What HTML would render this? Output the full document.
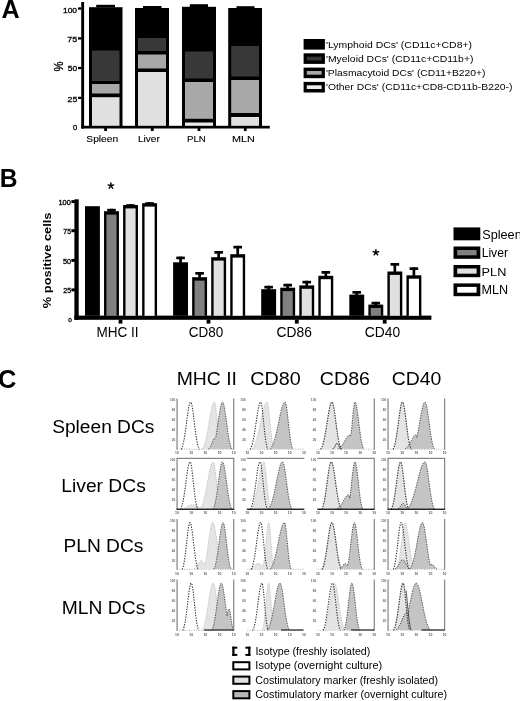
<!DOCTYPE html>
<html><head><meta charset="utf-8"><style>
html,body{margin:0;padding:0;background:#fff;}
svg{display:block;filter:grayscale(1);}
text{font-family:"Liberation Sans",sans-serif;}
</style></head><body>
<svg width="520" height="701" viewBox="0 0 520 701">
<rect width="520" height="701" fill="#fff"/>
<rect x="81.20" y="2.00" width="2.90" height="126.50" fill="#000" />
<rect x="81.20" y="125.80" width="188.60" height="2.70" fill="#000" />
<rect x="78.00" y="7.35" width="3.40" height="2.30" fill="#000" />
<rect x="78.00" y="37.25" width="3.40" height="2.30" fill="#000" />
<rect x="78.00" y="66.85" width="3.40" height="2.30" fill="#000" />
<rect x="78.00" y="96.75" width="3.40" height="2.30" fill="#000" />
<rect x="89.00" y="7.20" width="33.50" height="119.30" fill="#000" />
<rect x="96.20" y="4.80" width="18.80" height="2.60" fill="#000" />
<rect x="92.00" y="50.50" width="27.50" height="30.50" fill="#383838" />
<rect x="92.00" y="84.00" width="27.50" height="9.50" fill="#a8a8a8" />
<rect x="92.00" y="97.20" width="27.50" height="28.60" fill="#e0e0e0" />
<rect x="135.00" y="8.00" width="34.00" height="118.50" fill="#000" />
<rect x="143.00" y="6.00" width="18.50" height="2.20" fill="#000" />
<rect x="138.00" y="38.00" width="28.00" height="13.00" fill="#383838" />
<rect x="138.00" y="54.50" width="28.00" height="14.00" fill="#a8a8a8" />
<rect x="138.00" y="72.00" width="28.00" height="53.80" fill="#e0e0e0" />
<rect x="182.00" y="6.80" width="34.00" height="119.70" fill="#000" />
<rect x="189.80" y="4.20" width="18.20" height="2.80" fill="#000" />
<rect x="185.00" y="51.50" width="28.00" height="27.00" fill="#383838" />
<rect x="185.00" y="82.00" width="28.00" height="36.80" fill="#a8a8a8" />
<rect x="185.00" y="122.50" width="28.00" height="3.30" fill="#ececec" />
<rect x="228.20" y="8.00" width="33.80" height="118.50" fill="#000" />
<rect x="236.50" y="6.20" width="18.00" height="2.00" fill="#000" />
<rect x="231.20" y="46.00" width="27.80" height="30.50" fill="#383838" />
<rect x="231.20" y="80.00" width="27.80" height="33.00" fill="#a8a8a8" />
<rect x="231.20" y="117.00" width="27.80" height="8.80" fill="#e0e0e0" />
<rect x="104.20" y="128.00" width="2.80" height="3.00" fill="#000" />
<rect x="150.90" y="128.00" width="2.80" height="3.00" fill="#000" />
<rect x="197.60" y="128.00" width="2.80" height="3.00" fill="#000" />
<rect x="243.90" y="128.00" width="2.80" height="3.00" fill="#000" />
<rect x="303.60" y="39.00" width="21.30" height="10.60" fill="#000" />
<rect x="303.60" y="53.30" width="21.30" height="10.60" fill="#000" />
<rect x="306.80" y="56.70" width="14.80" height="3.70" fill="#383838" />
<rect x="303.60" y="67.60" width="21.30" height="10.60" fill="#000" />
<rect x="306.80" y="71.00" width="14.80" height="3.70" fill="#a8a8a8" />
<rect x="303.60" y="81.90" width="21.30" height="10.60" fill="#000" />
<rect x="306.80" y="85.30" width="14.80" height="3.70" fill="#eeeeee" />
<rect x="74.40" y="199.30" width="4.30" height="120.50" fill="#000" />
<rect x="74.40" y="315.60" width="357.00" height="4.20" fill="#000" />
<rect x="71.40" y="200.10" width="3.50" height="3.00" fill="#000" />
<rect x="71.40" y="229.20" width="3.50" height="3.00" fill="#000" />
<rect x="71.40" y="258.90" width="3.50" height="3.00" fill="#000" />
<rect x="71.40" y="288.40" width="3.50" height="3.00" fill="#000" />
<rect x="85.00" y="206.20" width="14.90" height="109.60" fill="#000" />
<rect x="107.20" y="208.80" width="8.60" height="2.70" fill="#000" />
<rect x="110.15" y="208.80" width="2.70" height="2.90" fill="#000" />
<rect x="104.05" y="211.20" width="14.90" height="104.60" fill="#000" />
<rect x="106.45" y="214.60" width="10.10" height="101.20" fill="#808080" />
<rect x="126.25" y="204.20" width="8.60" height="2.70" fill="#000" />
<rect x="129.20" y="204.20" width="2.70" height="1.30" fill="#000" />
<rect x="123.10" y="205.00" width="14.90" height="110.80" fill="#000" />
<rect x="125.50" y="208.40" width="10.10" height="107.40" fill="#e0e0e0" />
<rect x="145.30" y="202.20" width="8.60" height="2.70" fill="#000" />
<rect x="148.25" y="202.20" width="2.70" height="1.50" fill="#000" />
<rect x="142.15" y="203.20" width="14.90" height="112.60" fill="#000" />
<rect x="144.55" y="206.60" width="10.10" height="109.20" fill="#fff" />
<rect x="176.25" y="256.60" width="8.60" height="2.70" fill="#000" />
<rect x="179.20" y="256.60" width="2.70" height="6.20" fill="#000" />
<rect x="173.10" y="262.30" width="14.90" height="53.50" fill="#000" />
<rect x="195.30" y="272.00" width="8.60" height="2.70" fill="#000" />
<rect x="198.25" y="272.00" width="2.70" height="5.70" fill="#000" />
<rect x="192.15" y="277.20" width="14.90" height="38.60" fill="#000" />
<rect x="194.55" y="280.60" width="10.10" height="35.20" fill="#808080" />
<rect x="214.35" y="251.00" width="8.60" height="2.70" fill="#000" />
<rect x="217.30" y="251.00" width="2.70" height="6.70" fill="#000" />
<rect x="211.20" y="257.20" width="14.90" height="58.60" fill="#000" />
<rect x="213.60" y="260.60" width="10.10" height="55.20" fill="#e0e0e0" />
<rect x="233.40" y="245.80" width="8.60" height="2.70" fill="#000" />
<rect x="236.35" y="245.80" width="2.70" height="8.90" fill="#000" />
<rect x="230.25" y="254.20" width="14.90" height="61.60" fill="#000" />
<rect x="232.65" y="257.60" width="10.10" height="58.20" fill="#fff" />
<rect x="264.35" y="285.80" width="8.60" height="2.70" fill="#000" />
<rect x="267.30" y="285.80" width="2.70" height="3.90" fill="#000" />
<rect x="261.20" y="289.20" width="14.90" height="26.60" fill="#000" />
<rect x="283.40" y="283.80" width="8.60" height="2.70" fill="#000" />
<rect x="286.35" y="283.80" width="2.70" height="4.40" fill="#000" />
<rect x="280.25" y="287.70" width="14.90" height="28.10" fill="#000" />
<rect x="282.65" y="291.10" width="10.10" height="24.70" fill="#808080" />
<rect x="302.45" y="280.80" width="8.60" height="2.70" fill="#000" />
<rect x="305.40" y="280.80" width="2.70" height="5.10" fill="#000" />
<rect x="299.30" y="285.40" width="14.90" height="30.40" fill="#000" />
<rect x="301.70" y="288.80" width="10.10" height="27.00" fill="#e0e0e0" />
<rect x="321.50" y="271.00" width="8.60" height="2.70" fill="#000" />
<rect x="324.45" y="271.00" width="2.70" height="5.30" fill="#000" />
<rect x="318.35" y="275.80" width="14.90" height="40.00" fill="#000" />
<rect x="320.75" y="279.20" width="10.10" height="36.60" fill="#fff" />
<rect x="352.45" y="291.00" width="8.60" height="2.70" fill="#000" />
<rect x="355.40" y="291.00" width="2.70" height="4.10" fill="#000" />
<rect x="349.30" y="294.60" width="14.90" height="21.20" fill="#000" />
<rect x="371.50" y="301.80" width="8.60" height="2.70" fill="#000" />
<rect x="374.45" y="301.80" width="2.70" height="3.30" fill="#000" />
<rect x="368.35" y="304.60" width="14.90" height="11.20" fill="#000" />
<rect x="370.75" y="308.00" width="10.10" height="7.80" fill="#808080" />
<rect x="390.55" y="263.00" width="8.60" height="2.70" fill="#000" />
<rect x="393.50" y="263.00" width="2.70" height="9.00" fill="#000" />
<rect x="387.40" y="271.50" width="14.90" height="44.30" fill="#000" />
<rect x="389.80" y="274.90" width="10.10" height="40.90" fill="#e0e0e0" />
<rect x="409.60" y="267.30" width="8.60" height="2.70" fill="#000" />
<rect x="412.55" y="267.30" width="2.70" height="8.50" fill="#000" />
<rect x="406.45" y="275.30" width="14.90" height="40.50" fill="#000" />
<rect x="408.85" y="278.70" width="10.10" height="37.10" fill="#fff" />
<rect x="118.60" y="319.60" width="3.80" height="4.00" fill="#000" />
<rect x="206.60" y="319.60" width="3.80" height="4.00" fill="#000" />
<rect x="294.90" y="319.60" width="3.80" height="4.00" fill="#000" />
<rect x="382.80" y="319.60" width="3.80" height="4.00" fill="#000" />
<path d="M110.90,185.80 L110.90,182.90 M110.90,185.80 L113.66,184.90 M110.90,185.80 L112.60,188.15 M110.90,185.80 L109.20,188.15 M110.90,185.80 L108.14,184.90 " stroke="#000" stroke-width="1.45" stroke-linecap="round" fill="none"/>
<path d="M375.90,252.50 L375.90,249.60 M375.90,252.50 L378.66,251.60 M375.90,252.50 L377.60,254.85 M375.90,252.50 L374.20,254.85 M375.90,252.50 L373.14,251.60 " stroke="#000" stroke-width="1.45" stroke-linecap="round" fill="none"/>
<rect x="453.50" y="227.40" width="26.80" height="12.90" fill="#000" />
<rect x="453.50" y="246.50" width="26.80" height="12.30" fill="#000" />
<rect x="457.20" y="250.00" width="19.40" height="5.30" fill="#808080" />
<rect x="453.50" y="265.00" width="26.80" height="12.20" fill="#000" />
<rect x="457.20" y="268.50" width="19.40" height="5.20" fill="#e0e0e0" />
<rect x="453.50" y="283.40" width="26.80" height="12.80" fill="#000" />
<rect x="457.20" y="286.90" width="19.40" height="5.80" fill="#fff" />
<text x="1.51" y="17.70" font-size="25.17" font-weight="700" fill="#000" textLength="18.17" lengthAdjust="spacingAndGlyphs" >A</text>
<text x="62.97" y="12.68" font-size="7.65" font-weight="400" fill="#000" textLength="14.04" lengthAdjust="spacingAndGlyphs" stroke="#000" stroke-width="0.3">100</text>
<text x="67.38" y="42.07" font-size="8.07" font-weight="400" fill="#000" textLength="9.98" lengthAdjust="spacingAndGlyphs" stroke="#000" stroke-width="0.3">75</text>
<text x="67.84" y="71.48" font-size="7.65" font-weight="400" fill="#000" textLength="9.37" lengthAdjust="spacingAndGlyphs" stroke="#000" stroke-width="0.3">50</text>
<text x="67.59" y="101.77" font-size="8.07" font-weight="400" fill="#000" textLength="9.77" lengthAdjust="spacingAndGlyphs" stroke="#000" stroke-width="0.3">25</text>
<text x="72.96" y="130.39" font-size="7.23" font-weight="400" fill="#000" textLength="4.23" lengthAdjust="spacingAndGlyphs" stroke="#000" stroke-width="0.3">0</text>
<text x="0" y="0" transform="translate(62.61,71.55) rotate(-90)" font-size="12.38" font-weight="400" fill="#000" textLength="10.09" lengthAdjust="spacingAndGlyphs" stroke="#000" stroke-width="0.3">%</text>
<text x="86.38" y="142.10" font-size="9.53" font-weight="400" fill="#000" textLength="31.69" lengthAdjust="spacingAndGlyphs" stroke="#000" stroke-width="0.12">Spleen</text>
<text x="137.91" y="142.10" font-size="9.53" font-weight="400" fill="#000" textLength="21.94" lengthAdjust="spacingAndGlyphs" stroke="#000" stroke-width="0.12">Liver</text>
<text x="186.94" y="142.10" font-size="9.53" font-weight="400" fill="#000" textLength="18.85" lengthAdjust="spacingAndGlyphs" stroke="#000" stroke-width="0.12">PLN</text>
<text x="232.06" y="142.10" font-size="9.53" font-weight="400" fill="#000" textLength="22.83" lengthAdjust="spacingAndGlyphs" stroke="#000" stroke-width="0.12">MLN</text>
<text x="325.91" y="48.30" font-size="9.96" font-weight="400" fill="#000" textLength="146.13" lengthAdjust="spacingAndGlyphs" >&#39;Lymphoid DCs&#39; (CD11c+CD8+)</text>
<text x="325.91" y="62.10" font-size="9.81" font-weight="400" fill="#000" textLength="147.53" lengthAdjust="spacingAndGlyphs" >&#39;Myeloid DCs&#39; (CD11c+CD11b+)</text>
<text x="325.92" y="76.00" font-size="9.67" font-weight="400" fill="#000" textLength="159.62" lengthAdjust="spacingAndGlyphs" >&#39;Plasmacytoid DCs&#39; (CD11+B220+)</text>
<text x="325.91" y="89.90" font-size="9.67" font-weight="400" fill="#000" textLength="186.52" lengthAdjust="spacingAndGlyphs" >&#39;Other DCs&#39; (CD11c+CD8-CD11b-B220-)</text>
<text x="-0.34" y="186.50" font-size="25.17" font-weight="700" fill="#000" textLength="17.79" lengthAdjust="spacingAndGlyphs" >B</text>
<text x="0" y="0" transform="translate(51.48,308.20) rotate(-90)" font-size="11.54" font-weight="700" fill="#000" textLength="95.72" lengthAdjust="spacingAndGlyphs" >% positive cells</text>
<text x="58.43" y="205.49" font-size="7.10" font-weight="400" fill="#000" textLength="12.45" lengthAdjust="spacingAndGlyphs" stroke="#000" stroke-width="0.3">100</text>
<text x="63.38" y="234.19" font-size="6.82" font-weight="400" fill="#000" textLength="7.60" lengthAdjust="spacingAndGlyphs" stroke="#000" stroke-width="0.3">75</text>
<text x="62.97" y="263.59" font-size="7.10" font-weight="400" fill="#000" textLength="8.11" lengthAdjust="spacingAndGlyphs" stroke="#000" stroke-width="0.3">50</text>
<text x="63.27" y="292.79" font-size="6.82" font-weight="400" fill="#000" textLength="7.92" lengthAdjust="spacingAndGlyphs" stroke="#000" stroke-width="0.3">25</text>
<text x="68.20" y="321.51" font-size="5.98" font-weight="400" fill="#000" textLength="3.56" lengthAdjust="spacingAndGlyphs" stroke="#000" stroke-width="0.3">0</text>
<text x="96.44" y="336.60" font-size="13.94" font-weight="400" fill="#000" textLength="42.18" lengthAdjust="spacingAndGlyphs" >MHC II</text>
<text x="188.87" y="336.60" font-size="13.94" font-weight="400" fill="#000" textLength="34.47" lengthAdjust="spacingAndGlyphs" >CD80</text>
<text x="276.55" y="336.60" font-size="13.94" font-weight="400" fill="#000" textLength="35.31" lengthAdjust="spacingAndGlyphs" >CD86</text>
<text x="364.85" y="336.60" font-size="13.94" font-weight="400" fill="#000" textLength="35.29" lengthAdjust="spacingAndGlyphs" >CD40</text>
<text x="482.20" y="238.70" font-size="12.66" font-weight="400" fill="#000" textLength="39.51" lengthAdjust="spacingAndGlyphs" >Spleen</text>
<text x="481.65" y="257.40" font-size="12.37" font-weight="400" fill="#000" textLength="26.41" lengthAdjust="spacingAndGlyphs" >Liver</text>
<text x="481.61" y="276.00" font-size="11.80" font-weight="400" fill="#000" textLength="24.73" lengthAdjust="spacingAndGlyphs" >PLN</text>
<text x="481.62" y="294.40" font-size="11.95" font-weight="400" fill="#000" textLength="26.61" lengthAdjust="spacingAndGlyphs" >MLN</text>
<text x="-1.90" y="387.59" font-size="26.16" font-weight="700" fill="#000" textLength="18.38" lengthAdjust="spacingAndGlyphs" >C</text>
<text x="176.69" y="384.60" font-size="18.92" font-weight="400" fill="#000" textLength="60.26" lengthAdjust="spacingAndGlyphs" >MHC II</text>
<text x="250.28" y="384.60" font-size="18.92" font-weight="400" fill="#000" textLength="50.42" lengthAdjust="spacingAndGlyphs" >CD80</text>
<text x="319.88" y="384.60" font-size="18.92" font-weight="400" fill="#000" textLength="50.11" lengthAdjust="spacingAndGlyphs" >CD86</text>
<text x="391.69" y="384.60" font-size="18.92" font-weight="400" fill="#000" textLength="49.59" lengthAdjust="spacingAndGlyphs" >CD40</text>
<text x="52.20" y="432.70" font-size="18.35" font-weight="400" fill="#000" textLength="102.15" lengthAdjust="spacingAndGlyphs" >Spleen DCs</text>
<text x="61.30" y="491.80" font-size="18.06" font-weight="400" fill="#000" textLength="84.51" lengthAdjust="spacingAndGlyphs" >Liver DCs</text>
<text x="63.50" y="552.30" font-size="18.35" font-weight="400" fill="#000" textLength="79.90" lengthAdjust="spacingAndGlyphs" >PLN DCs</text>
<text x="61.79" y="614.20" font-size="19.06" font-weight="400" fill="#000" textLength="83.51" lengthAdjust="spacingAndGlyphs" >MLN DCs</text>
<line x1="177.0" y1="449.2" x2="233.7" y2="449.2" stroke="#9a9a9a" stroke-width="0.8" stroke-dasharray="1 1.4"/>
<path d="M202.00,448.90 L202.24,448.90 L202.49,448.90 L202.73,448.52 L202.97,448.08 L203.22,447.60 L203.46,447.08 L203.71,446.53 L203.95,445.92 L204.19,445.28 L204.44,444.59 L204.68,443.85 L204.93,443.06 L205.17,442.22 L205.41,441.33 L205.66,440.40 L205.90,439.41 L206.14,438.37 L206.39,437.29 L206.63,436.16 L206.88,434.98 L207.12,433.76 L207.36,432.50 L207.61,431.20 L207.85,429.87 L208.09,428.51 L208.34,427.12 L208.58,425.71 L208.82,424.29 L209.07,422.85 L209.31,421.41 L209.56,419.97 L209.80,418.55 L210.04,417.13 L210.29,415.75 L210.53,414.39 L210.78,413.06 L211.02,411.79 L211.26,410.56 L211.51,409.39 L211.75,408.29 L211.99,407.26 L212.24,406.31 L212.48,405.45 L212.72,404.67 L212.97,403.99 L213.21,403.41 L213.46,402.93 L213.70,402.56 L213.94,402.30 L214.19,402.14 L214.43,402.10 L214.68,402.33 L214.92,402.92 L215.16,403.85 L215.41,405.10 L215.65,406.66 L215.89,408.48 L216.14,410.54 L216.38,412.78 L216.62,415.18 L216.87,417.68 L217.11,420.25 L217.36,422.84 L217.60,425.43 L217.84,427.96 L218.09,430.41 L218.33,432.77 L218.57,435.00 L218.82,437.08 L219.06,439.02 L219.31,440.80 L219.55,442.41 L219.79,443.87 L220.04,445.16 L220.28,446.31 L220.53,447.31 L220.77,448.19 L221.01,448.90 L221.26,448.90 L221.50,448.90 L221.50,448.90 L202.00,448.90 Z" fill="#e4e4e4"/>
<path d="M202.00,448.90 L202.24,448.90 L202.49,448.90 L202.73,448.52 L202.97,448.08 L203.22,447.60 L203.46,447.08 L203.71,446.53 L203.95,445.92 L204.19,445.28 L204.44,444.59 L204.68,443.85 L204.93,443.06 L205.17,442.22 L205.41,441.33 L205.66,440.40 L205.90,439.41 L206.14,438.37 L206.39,437.29 L206.63,436.16 L206.88,434.98 L207.12,433.76 L207.36,432.50 L207.61,431.20 L207.85,429.87 L208.09,428.51 L208.34,427.12 L208.58,425.71 L208.82,424.29 L209.07,422.85 L209.31,421.41 L209.56,419.97 L209.80,418.55 L210.04,417.13 L210.29,415.75 L210.53,414.39 L210.78,413.06 L211.02,411.79 L211.26,410.56 L211.51,409.39 L211.75,408.29 L211.99,407.26 L212.24,406.31 L212.48,405.45 L212.72,404.67 L212.97,403.99 L213.21,403.41 L213.46,402.93 L213.70,402.56 L213.94,402.30 L214.19,402.14 L214.43,402.10 L214.68,402.33 L214.92,402.92 L215.16,403.85 L215.41,405.10 L215.65,406.66 L215.89,408.48 L216.14,410.54 L216.38,412.78 L216.62,415.18 L216.87,417.68 L217.11,420.25 L217.36,422.84 L217.60,425.43 L217.84,427.96 L218.09,430.41 L218.33,432.77 L218.57,435.00 L218.82,437.08 L219.06,439.02 L219.31,440.80 L219.55,442.41 L219.79,443.87 L220.04,445.16 L220.28,446.31 L220.53,447.31 L220.77,448.19 L221.01,448.90 L221.26,448.90 L221.50,448.90" fill="none" stroke="#b0b0b0" stroke-width="0.8" stroke-dasharray="1.2 1.2"/>
<path d="M208.50,448.90 L208.80,448.68 L209.09,448.42 L209.39,448.11 L209.69,447.75 L209.98,447.33 L210.28,446.85 L210.57,446.32 L210.87,445.74 L211.17,445.11 L211.46,444.43 L211.76,443.72 L212.06,442.99 L212.35,442.25 L212.65,441.53 L212.94,440.83 L213.24,440.18 L213.54,439.59 L213.83,439.08 L214.13,438.67 L214.43,438.37 L214.72,438.19 L215.02,438.14 L215.31,438.47 L215.61,438.12 L215.91,436.53 L216.20,434.83 L216.50,433.04 L216.79,431.18 L217.09,429.24 L217.39,427.24 L217.68,425.20 L217.98,423.13 L218.28,421.05 L218.57,418.98 L218.87,416.93 L219.16,414.94 L219.46,413.02 L219.76,411.19 L220.05,409.47 L220.35,407.90 L220.65,406.48 L220.94,405.23 L221.24,404.18 L221.53,403.33 L221.83,402.69 L222.13,402.28 L222.42,402.11 L222.72,402.18 L223.02,402.52 L223.31,403.13 L223.61,404.00 L223.91,405.11 L224.20,406.46 L224.50,408.01 L224.79,409.74 L225.09,411.63 L225.39,413.65 L225.68,415.77 L225.98,417.96 L226.27,420.20 L226.57,422.47 L226.87,424.72 L227.16,426.95 L227.46,429.12 L227.76,431.23 L228.05,433.25 L228.35,435.18 L228.64,437.00 L228.94,438.70 L229.24,440.28 L229.53,441.74 L229.83,443.08 L230.13,444.29 L230.42,445.39 L230.72,446.37 L231.01,447.25 L231.31,448.03 L231.61,448.71 L231.90,448.90 L232.20,448.90 L232.20,448.90 L208.50,448.90 Z" fill="#c4c4c4"/>
<path d="M208.50,448.90 L208.80,448.68 L209.09,448.42 L209.39,448.11 L209.69,447.75 L209.98,447.33 L210.28,446.85 L210.57,446.32 L210.87,445.74 L211.17,445.11 L211.46,444.43 L211.76,443.72 L212.06,442.99 L212.35,442.25 L212.65,441.53 L212.94,440.83 L213.24,440.18 L213.54,439.59 L213.83,439.08 L214.13,438.67 L214.43,438.37 L214.72,438.19 L215.02,438.14 L215.31,438.47 L215.61,438.12 L215.91,436.53 L216.20,434.83 L216.50,433.04 L216.79,431.18 L217.09,429.24 L217.39,427.24 L217.68,425.20 L217.98,423.13 L218.28,421.05 L218.57,418.98 L218.87,416.93 L219.16,414.94 L219.46,413.02 L219.76,411.19 L220.05,409.47 L220.35,407.90 L220.65,406.48 L220.94,405.23 L221.24,404.18 L221.53,403.33 L221.83,402.69 L222.13,402.28 L222.42,402.11 L222.72,402.18 L223.02,402.52 L223.31,403.13 L223.61,404.00 L223.91,405.11 L224.20,406.46 L224.50,408.01 L224.79,409.74 L225.09,411.63 L225.39,413.65 L225.68,415.77 L225.98,417.96 L226.27,420.20 L226.57,422.47 L226.87,424.72 L227.16,426.95 L227.46,429.12 L227.76,431.23 L228.05,433.25 L228.35,435.18 L228.64,437.00 L228.94,438.70 L229.24,440.28 L229.53,441.74 L229.83,443.08 L230.13,444.29 L230.42,445.39 L230.72,446.37 L231.01,447.25 L231.31,448.03 L231.61,448.71 L231.90,448.90 L232.20,448.90" fill="none" stroke="#333" stroke-width="0.9" stroke-dasharray="1.3 1.2"/>
<path d="M181.00,448.90 L181.23,448.90 L181.46,448.90 L181.69,448.48 L181.93,447.92 L182.16,447.31 L182.39,446.63 L182.62,445.89 L182.85,445.08 L183.08,444.20 L183.31,443.24 L183.54,442.21 L183.78,441.10 L184.01,439.91 L184.24,438.65 L184.47,437.31 L184.70,435.91 L184.93,434.43 L185.16,432.88 L185.39,431.28 L185.62,429.63 L185.86,427.93 L186.09,426.19 L186.32,424.42 L186.55,422.64 L186.78,420.86 L187.01,419.08 L187.24,417.32 L187.47,415.60 L187.71,413.92 L187.94,412.31 L188.17,410.77 L188.40,409.32 L188.63,407.97 L188.86,406.73 L189.09,405.62 L189.32,404.65 L189.56,403.82 L189.79,403.15 L190.02,402.64 L190.25,402.30 L190.48,402.12 L190.71,402.12 L190.94,402.32 L191.18,402.72 L191.41,403.31 L191.64,404.09 L191.87,405.05 L192.10,406.17 L192.33,407.45 L192.56,408.87 L192.79,410.42 L193.03,412.07 L193.26,413.81 L193.49,415.62 L193.72,417.49 L193.95,419.40 L194.18,421.33 L194.41,423.26 L194.64,425.19 L194.88,427.08 L195.11,428.95 L195.34,430.76 L195.57,432.51 L195.80,434.20 L196.03,435.80 L196.26,437.33 L196.49,438.78 L196.72,440.13 L196.96,441.40 L197.19,442.57 L197.42,443.66 L197.65,444.66 L197.88,445.57 L198.11,446.40 L198.34,447.16 L198.57,447.83 L198.81,448.44 L199.04,448.90 L199.27,448.90 L199.50,448.90" fill="none" stroke="#2a2a2a" stroke-width="1.05" stroke-dasharray="1.3 1.3"/>
<rect x="176.50" y="398.50" width="1.10" height="51.20" fill="#787878" />
<rect x="233.20" y="398.50" width="1.10" height="51.20" fill="#787878" />
<text x="175.40" y="401.40" font-size="3.2" font-weight="700" text-anchor="end" fill="#666">100</text>
<text x="175.40" y="411.30" font-size="3.2" font-weight="700" text-anchor="end" fill="#666">80</text>
<text x="175.40" y="421.20" font-size="3.2" font-weight="700" text-anchor="end" fill="#666">60</text>
<text x="175.40" y="431.10" font-size="3.2" font-weight="700" text-anchor="end" fill="#666">40</text>
<text x="175.40" y="441.00" font-size="3.2" font-weight="700" text-anchor="end" fill="#666">20</text>
<text x="177.00" y="454.40" font-size="3.4" font-weight="700" text-anchor="middle" fill="#555">10</text>
<text x="191.18" y="454.40" font-size="3.4" font-weight="700" text-anchor="middle" fill="#555">10</text>
<text x="205.35" y="454.40" font-size="3.4" font-weight="700" text-anchor="middle" fill="#555">10</text>
<text x="219.52" y="454.40" font-size="3.4" font-weight="700" text-anchor="middle" fill="#555">10</text>
<text x="233.70" y="454.40" font-size="3.4" font-weight="700" text-anchor="middle" fill="#555">10</text>
<line x1="247.3" y1="449.2" x2="303.8" y2="449.2" stroke="#9a9a9a" stroke-width="0.8" stroke-dasharray="1 1.4"/>
<path d="M252.00,448.90 L252.28,448.90 L252.56,448.82 L252.84,448.42 L253.12,448.00 L253.41,447.54 L253.69,447.04 L253.97,446.51 L254.25,445.93 L254.53,445.32 L254.81,444.66 L255.09,443.96 L255.38,443.22 L255.66,442.43 L255.94,441.60 L256.22,440.72 L256.50,439.80 L256.78,438.83 L257.06,437.82 L257.34,436.76 L257.62,435.66 L257.91,434.52 L258.19,433.35 L258.47,432.13 L258.75,430.89 L259.03,429.61 L259.31,428.31 L259.59,426.98 L259.88,425.63 L260.16,424.27 L260.44,422.91 L260.72,421.53 L261.00,420.16 L261.28,418.80 L261.56,417.45 L261.84,416.12 L262.12,414.81 L262.41,413.54 L262.69,412.30 L262.97,411.11 L263.25,409.97 L263.53,408.89 L263.81,407.87 L264.09,406.91 L264.38,406.03 L264.66,405.23 L264.94,404.52 L265.22,403.88 L265.50,403.34 L265.78,402.90 L266.06,402.55 L266.34,402.30 L266.62,402.15 L266.91,402.10 L267.19,402.32 L267.47,402.95 L267.75,403.97 L268.03,405.37 L268.31,407.11 L268.59,409.14 L268.88,411.42 L269.16,413.91 L269.44,416.54 L269.72,419.27 L270.00,422.05 L270.28,424.83 L270.56,427.56 L270.84,430.20 L271.12,432.73 L271.41,435.12 L271.69,437.34 L271.97,439.39 L272.25,441.26 L272.53,442.94 L272.81,444.43 L273.09,445.75 L273.38,446.89 L273.66,447.88 L273.94,448.73 L274.22,448.90 L274.50,448.90 L274.50,448.90 L252.00,448.90 Z" fill="#e4e4e4"/>
<path d="M252.00,448.90 L252.28,448.90 L252.56,448.82 L252.84,448.42 L253.12,448.00 L253.41,447.54 L253.69,447.04 L253.97,446.51 L254.25,445.93 L254.53,445.32 L254.81,444.66 L255.09,443.96 L255.38,443.22 L255.66,442.43 L255.94,441.60 L256.22,440.72 L256.50,439.80 L256.78,438.83 L257.06,437.82 L257.34,436.76 L257.62,435.66 L257.91,434.52 L258.19,433.35 L258.47,432.13 L258.75,430.89 L259.03,429.61 L259.31,428.31 L259.59,426.98 L259.88,425.63 L260.16,424.27 L260.44,422.91 L260.72,421.53 L261.00,420.16 L261.28,418.80 L261.56,417.45 L261.84,416.12 L262.12,414.81 L262.41,413.54 L262.69,412.30 L262.97,411.11 L263.25,409.97 L263.53,408.89 L263.81,407.87 L264.09,406.91 L264.38,406.03 L264.66,405.23 L264.94,404.52 L265.22,403.88 L265.50,403.34 L265.78,402.90 L266.06,402.55 L266.34,402.30 L266.62,402.15 L266.91,402.10 L267.19,402.32 L267.47,402.95 L267.75,403.97 L268.03,405.37 L268.31,407.11 L268.59,409.14 L268.88,411.42 L269.16,413.91 L269.44,416.54 L269.72,419.27 L270.00,422.05 L270.28,424.83 L270.56,427.56 L270.84,430.20 L271.12,432.73 L271.41,435.12 L271.69,437.34 L271.97,439.39 L272.25,441.26 L272.53,442.94 L272.81,444.43 L273.09,445.75 L273.38,446.89 L273.66,447.88 L273.94,448.73 L274.22,448.90 L274.50,448.90" fill="none" stroke="#b0b0b0" stroke-width="0.8" stroke-dasharray="1.2 1.2"/>
<path d="M270.00,448.90 L270.29,448.90 L270.58,448.80 L270.87,448.40 L271.15,447.96 L271.44,447.49 L271.73,446.98 L272.02,446.42 L272.31,445.83 L272.60,445.20 L272.89,444.52 L273.18,443.80 L273.47,443.03 L273.75,442.22 L274.04,441.35 L274.33,440.44 L274.62,439.49 L274.91,438.49 L275.20,437.44 L275.49,436.34 L275.77,435.21 L276.06,434.03 L276.35,432.81 L276.64,431.56 L276.93,430.27 L277.22,428.96 L277.51,427.62 L277.80,426.25 L278.09,424.87 L278.37,423.48 L278.66,422.08 L278.95,420.68 L279.24,419.29 L279.53,417.91 L279.82,416.54 L280.11,415.20 L280.39,413.90 L280.68,412.63 L280.97,411.40 L281.26,410.22 L281.55,409.11 L281.84,408.05 L282.13,407.07 L282.42,406.16 L282.71,405.33 L282.99,404.59 L283.28,403.94 L283.57,403.38 L283.86,402.92 L284.15,402.56 L284.44,402.30 L284.73,402.15 L285.01,402.10 L285.30,402.31 L285.59,402.90 L285.88,403.86 L286.17,405.16 L286.46,406.78 L286.75,408.67 L287.04,410.81 L287.33,413.15 L287.61,415.63 L287.90,418.22 L288.19,420.88 L288.48,423.54 L288.77,426.19 L289.06,428.77 L289.35,431.27 L289.63,433.64 L289.92,435.88 L290.21,437.96 L290.50,439.88 L290.79,441.62 L291.08,443.20 L291.37,444.61 L291.66,445.85 L291.95,446.94 L292.23,447.89 L292.52,448.70 L292.81,448.90 L293.10,448.90 L293.10,448.90 L270.00,448.90 Z" fill="#c4c4c4"/>
<path d="M270.00,448.90 L270.29,448.90 L270.58,448.80 L270.87,448.40 L271.15,447.96 L271.44,447.49 L271.73,446.98 L272.02,446.42 L272.31,445.83 L272.60,445.20 L272.89,444.52 L273.18,443.80 L273.47,443.03 L273.75,442.22 L274.04,441.35 L274.33,440.44 L274.62,439.49 L274.91,438.49 L275.20,437.44 L275.49,436.34 L275.77,435.21 L276.06,434.03 L276.35,432.81 L276.64,431.56 L276.93,430.27 L277.22,428.96 L277.51,427.62 L277.80,426.25 L278.09,424.87 L278.37,423.48 L278.66,422.08 L278.95,420.68 L279.24,419.29 L279.53,417.91 L279.82,416.54 L280.11,415.20 L280.39,413.90 L280.68,412.63 L280.97,411.40 L281.26,410.22 L281.55,409.11 L281.84,408.05 L282.13,407.07 L282.42,406.16 L282.71,405.33 L282.99,404.59 L283.28,403.94 L283.57,403.38 L283.86,402.92 L284.15,402.56 L284.44,402.30 L284.73,402.15 L285.01,402.10 L285.30,402.31 L285.59,402.90 L285.88,403.86 L286.17,405.16 L286.46,406.78 L286.75,408.67 L287.04,410.81 L287.33,413.15 L287.61,415.63 L287.90,418.22 L288.19,420.88 L288.48,423.54 L288.77,426.19 L289.06,428.77 L289.35,431.27 L289.63,433.64 L289.92,435.88 L290.21,437.96 L290.50,439.88 L290.79,441.62 L291.08,443.20 L291.37,444.61 L291.66,445.85 L291.95,446.94 L292.23,447.89 L292.52,448.70 L292.81,448.90 L293.10,448.90" fill="none" stroke="#333" stroke-width="0.9" stroke-dasharray="1.3 1.2"/>
<path d="M250.00,448.90 L250.22,448.90 L250.45,448.90 L250.68,448.56 L250.90,448.08 L251.12,447.56 L251.35,447.00 L251.57,446.38 L251.80,445.71 L252.03,444.99 L252.25,444.21 L252.47,443.38 L252.70,442.49 L252.93,441.54 L253.15,440.53 L253.38,439.46 L253.60,438.34 L253.82,437.15 L254.05,435.91 L254.28,434.62 L254.50,433.28 L254.72,431.89 L254.95,430.46 L255.18,428.99 L255.40,427.49 L255.62,425.96 L255.85,424.41 L256.07,422.85 L256.30,421.29 L256.52,419.72 L256.75,418.17 L256.98,416.65 L257.20,415.15 L257.43,413.69 L257.65,412.28 L257.88,410.92 L258.10,409.64 L258.32,408.43 L258.55,407.30 L258.77,406.27 L259.00,405.34 L259.23,404.51 L259.45,403.80 L259.68,403.21 L259.90,402.74 L260.12,402.39 L260.35,402.18 L260.57,402.10 L260.80,402.21 L261.02,402.60 L261.25,403.27 L261.48,404.20 L261.70,405.38 L261.93,406.78 L262.15,408.39 L262.38,410.19 L262.60,412.14 L262.82,414.21 L263.05,416.39 L263.27,418.62 L263.50,420.90 L263.73,423.19 L263.95,425.47 L264.18,427.71 L264.40,429.89 L264.62,432.00 L264.85,434.01 L265.07,435.92 L265.30,437.71 L265.52,439.39 L265.75,440.93 L265.98,442.36 L266.20,443.65 L266.43,444.83 L266.65,445.88 L266.88,446.83 L267.10,447.66 L267.32,448.39 L267.55,448.90 L267.77,448.90 L268.00,448.90" fill="none" stroke="#2a2a2a" stroke-width="1.05" stroke-dasharray="1.3 1.3"/>
<text x="245.70" y="401.40" font-size="3.2" font-weight="700" text-anchor="end" fill="#666">100</text>
<text x="245.70" y="411.30" font-size="3.2" font-weight="700" text-anchor="end" fill="#666">80</text>
<text x="245.70" y="421.20" font-size="3.2" font-weight="700" text-anchor="end" fill="#666">60</text>
<text x="245.70" y="431.10" font-size="3.2" font-weight="700" text-anchor="end" fill="#666">40</text>
<text x="245.70" y="441.00" font-size="3.2" font-weight="700" text-anchor="end" fill="#666">20</text>
<text x="247.30" y="454.40" font-size="3.4" font-weight="700" text-anchor="middle" fill="#555">10</text>
<text x="261.43" y="454.40" font-size="3.4" font-weight="700" text-anchor="middle" fill="#555">10</text>
<text x="275.55" y="454.40" font-size="3.4" font-weight="700" text-anchor="middle" fill="#555">10</text>
<text x="289.68" y="454.40" font-size="3.4" font-weight="700" text-anchor="middle" fill="#555">10</text>
<text x="303.80" y="454.40" font-size="3.4" font-weight="700" text-anchor="middle" fill="#555">10</text>
<line x1="317.8" y1="449.2" x2="374.2" y2="449.2" stroke="#9a9a9a" stroke-width="0.8" stroke-dasharray="1 1.4"/>
<path d="M320.60,448.90 L320.86,448.90 L321.12,448.86 L321.38,448.37 L321.65,447.84 L321.91,447.25 L322.17,446.60 L322.43,445.89 L322.69,445.12 L322.95,444.28 L323.21,443.38 L323.47,442.41 L323.74,441.37 L324.00,440.26 L324.26,439.08 L324.52,437.83 L324.78,436.52 L325.04,435.14 L325.30,433.70 L325.56,432.21 L325.83,430.66 L326.09,429.07 L326.35,427.44 L326.61,425.78 L326.87,424.09 L327.13,422.40 L327.39,420.70 L327.65,419.01 L327.92,417.33 L328.18,415.69 L328.44,414.09 L328.70,412.55 L328.96,411.07 L329.22,409.67 L329.48,408.35 L329.74,407.14 L330.00,406.04 L330.27,405.06 L330.53,404.21 L330.79,403.49 L331.05,402.92 L331.31,402.49 L331.57,402.22 L331.83,402.11 L332.10,402.16 L332.36,402.43 L332.62,402.92 L332.88,403.62 L333.14,404.51 L333.40,405.60 L333.66,406.86 L333.92,408.28 L334.19,409.84 L334.45,411.52 L334.71,413.31 L334.97,415.19 L335.23,417.13 L335.49,419.11 L335.75,421.12 L336.01,423.14 L336.27,425.14 L336.54,427.12 L336.80,429.06 L337.06,430.95 L337.32,432.76 L337.58,434.51 L337.84,436.17 L338.10,437.74 L338.37,439.22 L338.63,440.60 L338.89,441.89 L339.15,443.07 L339.41,444.16 L339.67,445.16 L339.93,446.06 L340.19,446.88 L340.45,447.61 L340.72,448.27 L340.98,448.85 L341.24,448.90 L341.50,448.90 L341.50,448.90 L320.60,448.90 Z" fill="#e4e4e4"/>
<path d="M320.60,448.90 L320.86,448.90 L321.12,448.86 L321.38,448.37 L321.65,447.84 L321.91,447.25 L322.17,446.60 L322.43,445.89 L322.69,445.12 L322.95,444.28 L323.21,443.38 L323.47,442.41 L323.74,441.37 L324.00,440.26 L324.26,439.08 L324.52,437.83 L324.78,436.52 L325.04,435.14 L325.30,433.70 L325.56,432.21 L325.83,430.66 L326.09,429.07 L326.35,427.44 L326.61,425.78 L326.87,424.09 L327.13,422.40 L327.39,420.70 L327.65,419.01 L327.92,417.33 L328.18,415.69 L328.44,414.09 L328.70,412.55 L328.96,411.07 L329.22,409.67 L329.48,408.35 L329.74,407.14 L330.00,406.04 L330.27,405.06 L330.53,404.21 L330.79,403.49 L331.05,402.92 L331.31,402.49 L331.57,402.22 L331.83,402.11 L332.10,402.16 L332.36,402.43 L332.62,402.92 L332.88,403.62 L333.14,404.51 L333.40,405.60 L333.66,406.86 L333.92,408.28 L334.19,409.84 L334.45,411.52 L334.71,413.31 L334.97,415.19 L335.23,417.13 L335.49,419.11 L335.75,421.12 L336.01,423.14 L336.27,425.14 L336.54,427.12 L336.80,429.06 L337.06,430.95 L337.32,432.76 L337.58,434.51 L337.84,436.17 L338.10,437.74 L338.37,439.22 L338.63,440.60 L338.89,441.89 L339.15,443.07 L339.41,444.16 L339.67,445.16 L339.93,446.06 L340.19,446.88 L340.45,447.61 L340.72,448.27 L340.98,448.85 L341.24,448.90 L341.50,448.90" fill="none" stroke="#b0b0b0" stroke-width="0.8" stroke-dasharray="1.2 1.2"/>
<path d="M338.00,448.90 L338.32,448.74 L338.65,448.55 L338.98,448.35 L339.30,448.13 L339.62,447.88 L339.95,447.61 L340.27,447.31 L340.60,446.99 L340.93,446.64 L341.25,446.27 L341.57,445.87 L341.90,445.44 L342.23,444.99 L342.55,444.52 L342.88,444.02 L343.20,443.51 L343.52,442.98 L343.85,442.43 L344.18,441.87 L344.50,441.30 L344.82,440.73 L345.15,440.16 L345.48,439.60 L345.80,439.04 L346.12,438.50 L346.45,437.98 L346.77,437.49 L347.10,437.02 L347.43,436.59 L347.75,436.20 L348.07,435.85 L348.40,435.55 L348.73,435.30 L349.05,435.11 L349.38,434.97 L349.70,434.88 L350.02,434.86 L350.35,435.16 L350.68,435.96 L351.00,435.72 L351.32,432.59 L351.65,429.20 L351.98,425.64 L352.30,421.97 L352.62,418.30 L352.95,414.75 L353.27,411.43 L353.60,408.46 L353.93,405.95 L354.25,404.01 L354.57,402.72 L354.90,402.13 L355.23,402.19 L355.55,402.65 L355.88,403.49 L356.20,404.69 L356.52,406.21 L356.85,408.03 L357.18,410.11 L357.50,412.40 L357.82,414.86 L358.15,417.44 L358.48,420.10 L358.80,422.78 L359.12,425.46 L359.45,428.08 L359.77,430.61 L360.10,433.04 L360.43,435.33 L360.75,437.46 L361.07,439.43 L361.40,441.23 L361.73,442.86 L362.05,444.31 L362.38,445.60 L362.70,446.73 L363.02,447.71 L363.35,448.55 L363.68,448.90 L364.00,448.90 L364.00,448.90 L338.00,448.90 Z" fill="#c4c4c4"/>
<path d="M338.00,448.90 L338.32,448.74 L338.65,448.55 L338.98,448.35 L339.30,448.13 L339.62,447.88 L339.95,447.61 L340.27,447.31 L340.60,446.99 L340.93,446.64 L341.25,446.27 L341.57,445.87 L341.90,445.44 L342.23,444.99 L342.55,444.52 L342.88,444.02 L343.20,443.51 L343.52,442.98 L343.85,442.43 L344.18,441.87 L344.50,441.30 L344.82,440.73 L345.15,440.16 L345.48,439.60 L345.80,439.04 L346.12,438.50 L346.45,437.98 L346.77,437.49 L347.10,437.02 L347.43,436.59 L347.75,436.20 L348.07,435.85 L348.40,435.55 L348.73,435.30 L349.05,435.11 L349.38,434.97 L349.70,434.88 L350.02,434.86 L350.35,435.16 L350.68,435.96 L351.00,435.72 L351.32,432.59 L351.65,429.20 L351.98,425.64 L352.30,421.97 L352.62,418.30 L352.95,414.75 L353.27,411.43 L353.60,408.46 L353.93,405.95 L354.25,404.01 L354.57,402.72 L354.90,402.13 L355.23,402.19 L355.55,402.65 L355.88,403.49 L356.20,404.69 L356.52,406.21 L356.85,408.03 L357.18,410.11 L357.50,412.40 L357.82,414.86 L358.15,417.44 L358.48,420.10 L358.80,422.78 L359.12,425.46 L359.45,428.08 L359.77,430.61 L360.10,433.04 L360.43,435.33 L360.75,437.46 L361.07,439.43 L361.40,441.23 L361.73,442.86 L362.05,444.31 L362.38,445.60 L362.70,446.73 L363.02,447.71 L363.35,448.55 L363.68,448.90 L364.00,448.90" fill="none" stroke="#333" stroke-width="0.9" stroke-dasharray="1.3 1.2"/>
<path d="M320.60,448.90 L320.86,448.90 L321.12,448.86 L321.38,448.37 L321.65,447.84 L321.91,447.25 L322.17,446.60 L322.43,445.89 L322.69,445.12 L322.95,444.28 L323.21,443.38 L323.47,442.41 L323.74,441.37 L324.00,440.26 L324.26,439.08 L324.52,437.83 L324.78,436.52 L325.04,435.14 L325.30,433.70 L325.56,432.21 L325.83,430.66 L326.09,429.07 L326.35,427.44 L326.61,425.78 L326.87,424.09 L327.13,422.40 L327.39,420.70 L327.65,419.01 L327.92,417.33 L328.18,415.69 L328.44,414.09 L328.70,412.55 L328.96,411.07 L329.22,409.67 L329.48,408.35 L329.74,407.14 L330.00,406.04 L330.27,405.06 L330.53,404.21 L330.79,403.49 L331.05,402.92 L331.31,402.49 L331.57,402.22 L331.83,402.11 L332.10,402.16 L332.36,402.43 L332.62,402.92 L332.88,403.62 L333.14,404.51 L333.40,405.60 L333.66,406.86 L333.92,408.28 L334.19,409.84 L334.45,411.52 L334.71,413.31 L334.97,415.19 L335.23,417.13 L335.49,419.11 L335.75,421.12 L336.01,423.14 L336.27,425.14 L336.54,427.12 L336.80,429.06 L337.06,430.95 L337.32,432.76 L337.58,434.51 L337.84,436.17 L338.10,437.74 L338.37,439.22 L338.63,440.60 L338.89,441.89 L339.15,443.07 L339.41,444.16 L339.67,445.16 L339.93,446.06 L340.19,446.88 L340.45,447.61 L340.72,448.27 L340.98,448.85 L341.24,448.90 L341.50,448.90" fill="none" stroke="#2a2a2a" stroke-width="1.05" stroke-dasharray="1.3 1.3"/>
<path d="M332.50,448.90 L332.61,448.90 L332.73,448.90 L332.84,448.90 L332.95,448.90 L333.06,448.86 L333.18,448.79 L333.29,448.71 L333.40,448.62 L333.51,448.52 L333.62,448.41 L333.74,448.29 L333.85,448.16 L333.96,448.01 L334.07,447.86 L334.19,447.69 L334.30,447.52 L334.41,447.33 L334.52,447.13 L334.64,446.93 L334.75,446.71 L334.86,446.49 L334.98,446.26 L335.09,446.03 L335.20,445.79 L335.31,445.55 L335.43,445.32 L335.54,445.08 L335.65,444.86 L335.76,444.64 L335.88,444.43 L335.99,444.23 L336.10,444.04 L336.21,443.87 L336.32,443.72 L336.44,443.59 L336.55,443.48 L336.66,443.40 L336.77,443.33 L336.89,443.30 L337.00,443.28 L337.11,443.30 L337.23,443.33 L337.34,443.40 L337.45,443.48 L337.56,443.59 L337.68,443.72 L337.79,443.87 L337.90,444.04 L338.01,444.23 L338.12,444.43 L338.24,444.64 L338.35,444.86 L338.46,445.08 L338.57,445.32 L338.69,445.55 L338.80,445.79 L338.91,446.03 L339.02,446.26 L339.14,446.49 L339.25,446.71 L339.36,446.93 L339.48,447.13 L339.59,447.33 L339.70,447.52 L339.81,447.69 L339.93,447.86 L340.04,448.01 L340.15,448.16 L340.26,448.29 L340.38,448.41 L340.49,448.52 L340.60,448.62 L340.71,448.71 L340.82,448.79 L340.94,448.86 L341.05,448.90 L341.16,448.90 L341.27,448.90 L341.39,448.90 L341.50,448.90" fill="none" stroke="#222" stroke-width="0.8"/>
<rect x="373.70" y="398.50" width="1.10" height="51.20" fill="#787878" />
<text x="316.20" y="401.40" font-size="3.2" font-weight="700" text-anchor="end" fill="#666">100</text>
<text x="316.20" y="411.30" font-size="3.2" font-weight="700" text-anchor="end" fill="#666">80</text>
<text x="316.20" y="421.20" font-size="3.2" font-weight="700" text-anchor="end" fill="#666">60</text>
<text x="316.20" y="431.10" font-size="3.2" font-weight="700" text-anchor="end" fill="#666">40</text>
<text x="316.20" y="441.00" font-size="3.2" font-weight="700" text-anchor="end" fill="#666">20</text>
<text x="317.80" y="454.40" font-size="3.4" font-weight="700" text-anchor="middle" fill="#555">10</text>
<text x="331.90" y="454.40" font-size="3.4" font-weight="700" text-anchor="middle" fill="#555">10</text>
<text x="346.00" y="454.40" font-size="3.4" font-weight="700" text-anchor="middle" fill="#555">10</text>
<text x="360.10" y="454.40" font-size="3.4" font-weight="700" text-anchor="middle" fill="#555">10</text>
<text x="374.20" y="454.40" font-size="3.4" font-weight="700" text-anchor="middle" fill="#555">10</text>
<line x1="388.0" y1="449.2" x2="444.6" y2="449.2" stroke="#9a9a9a" stroke-width="0.8" stroke-dasharray="1 1.4"/>
<path d="M392.80,448.90 L393.03,448.90 L393.27,448.90 L393.50,448.47 L393.74,447.91 L393.97,447.30 L394.20,446.62 L394.44,445.87 L394.67,445.06 L394.90,444.18 L395.14,443.22 L395.37,442.18 L395.61,441.07 L395.84,439.89 L396.07,438.62 L396.31,437.29 L396.54,435.88 L396.77,434.40 L397.01,432.85 L397.24,431.25 L397.48,429.59 L397.71,427.89 L397.94,426.15 L398.18,424.39 L398.41,422.61 L398.64,420.82 L398.88,419.05 L399.11,417.29 L399.35,415.57 L399.58,413.89 L399.81,412.28 L400.05,410.74 L400.28,409.29 L400.51,407.94 L400.75,406.71 L400.98,405.60 L401.22,404.63 L401.45,403.81 L401.68,403.14 L401.92,402.63 L402.15,402.29 L402.38,402.12 L402.62,402.13 L402.85,402.33 L403.08,402.73 L403.32,403.32 L403.55,404.10 L403.79,405.06 L404.02,406.19 L404.25,407.46 L404.49,408.88 L404.72,410.42 L404.95,412.07 L405.19,413.81 L405.42,415.63 L405.66,417.49 L405.89,419.40 L406.12,421.33 L406.36,423.26 L406.59,425.18 L406.82,427.08 L407.06,428.94 L407.29,430.75 L407.53,432.50 L407.76,434.18 L407.99,435.79 L408.23,437.32 L408.46,438.76 L408.69,440.12 L408.93,441.38 L409.16,442.56 L409.40,443.64 L409.63,444.64 L409.86,445.56 L410.10,446.39 L410.33,447.14 L410.56,447.82 L410.80,448.43 L411.03,448.90 L411.27,448.90 L411.50,448.90 L411.50,448.90 L392.80,448.90 Z" fill="#e4e4e4"/>
<path d="M392.80,448.90 L393.03,448.90 L393.27,448.90 L393.50,448.47 L393.74,447.91 L393.97,447.30 L394.20,446.62 L394.44,445.87 L394.67,445.06 L394.90,444.18 L395.14,443.22 L395.37,442.18 L395.61,441.07 L395.84,439.89 L396.07,438.62 L396.31,437.29 L396.54,435.88 L396.77,434.40 L397.01,432.85 L397.24,431.25 L397.48,429.59 L397.71,427.89 L397.94,426.15 L398.18,424.39 L398.41,422.61 L398.64,420.82 L398.88,419.05 L399.11,417.29 L399.35,415.57 L399.58,413.89 L399.81,412.28 L400.05,410.74 L400.28,409.29 L400.51,407.94 L400.75,406.71 L400.98,405.60 L401.22,404.63 L401.45,403.81 L401.68,403.14 L401.92,402.63 L402.15,402.29 L402.38,402.12 L402.62,402.13 L402.85,402.33 L403.08,402.73 L403.32,403.32 L403.55,404.10 L403.79,405.06 L404.02,406.19 L404.25,407.46 L404.49,408.88 L404.72,410.42 L404.95,412.07 L405.19,413.81 L405.42,415.63 L405.66,417.49 L405.89,419.40 L406.12,421.33 L406.36,423.26 L406.59,425.18 L406.82,427.08 L407.06,428.94 L407.29,430.75 L407.53,432.50 L407.76,434.18 L407.99,435.79 L408.23,437.32 L408.46,438.76 L408.69,440.12 L408.93,441.38 L409.16,442.56 L409.40,443.64 L409.63,444.64 L409.86,445.56 L410.10,446.39 L410.33,447.14 L410.56,447.82 L410.80,448.43 L411.03,448.90 L411.27,448.90 L411.50,448.90" fill="none" stroke="#b0b0b0" stroke-width="0.8" stroke-dasharray="1.2 1.2"/>
<path d="M405.00,448.90 L405.37,448.69 L405.74,448.46 L406.11,448.19 L406.49,447.88 L406.86,447.54 L407.23,447.16 L407.60,446.74 L407.97,446.28 L408.34,445.78 L408.71,445.24 L409.08,444.66 L409.45,444.05 L409.83,443.40 L410.20,442.73 L410.57,442.04 L410.94,441.34 L411.31,440.63 L411.68,439.92 L412.05,439.22 L412.43,438.54 L412.80,437.90 L413.17,437.29 L413.54,436.73 L413.91,436.24 L414.28,435.81 L414.65,435.45 L415.02,435.17 L415.39,434.98 L415.77,434.88 L416.14,434.94 L416.51,435.97 L416.88,437.47 L417.25,435.76 L417.62,433.94 L417.99,432.03 L418.37,430.04 L418.74,427.97 L419.11,425.85 L419.48,423.70 L419.85,421.53 L420.22,419.36 L420.59,417.22 L420.96,415.13 L421.33,413.11 L421.71,411.20 L422.08,409.41 L422.45,407.78 L422.82,406.31 L423.19,405.04 L423.56,403.98 L423.93,403.14 L424.31,402.54 L424.68,402.20 L425.05,402.10 L425.42,402.38 L425.79,403.07 L426.16,404.18 L426.53,405.66 L426.90,407.49 L427.27,409.62 L427.65,412.00 L428.02,414.58 L428.39,417.29 L428.76,420.09 L429.13,422.92 L429.50,425.74 L429.87,428.50 L430.25,431.15 L430.62,433.68 L430.99,436.05 L431.36,438.24 L431.73,440.24 L432.10,442.06 L432.47,443.68 L432.84,445.11 L433.21,446.36 L433.59,447.45 L433.96,448.37 L434.33,448.90 L434.70,448.90 L434.70,448.90 L405.00,448.90 Z" fill="#c4c4c4"/>
<path d="M405.00,448.90 L405.37,448.69 L405.74,448.46 L406.11,448.19 L406.49,447.88 L406.86,447.54 L407.23,447.16 L407.60,446.74 L407.97,446.28 L408.34,445.78 L408.71,445.24 L409.08,444.66 L409.45,444.05 L409.83,443.40 L410.20,442.73 L410.57,442.04 L410.94,441.34 L411.31,440.63 L411.68,439.92 L412.05,439.22 L412.43,438.54 L412.80,437.90 L413.17,437.29 L413.54,436.73 L413.91,436.24 L414.28,435.81 L414.65,435.45 L415.02,435.17 L415.39,434.98 L415.77,434.88 L416.14,434.94 L416.51,435.97 L416.88,437.47 L417.25,435.76 L417.62,433.94 L417.99,432.03 L418.37,430.04 L418.74,427.97 L419.11,425.85 L419.48,423.70 L419.85,421.53 L420.22,419.36 L420.59,417.22 L420.96,415.13 L421.33,413.11 L421.71,411.20 L422.08,409.41 L422.45,407.78 L422.82,406.31 L423.19,405.04 L423.56,403.98 L423.93,403.14 L424.31,402.54 L424.68,402.20 L425.05,402.10 L425.42,402.38 L425.79,403.07 L426.16,404.18 L426.53,405.66 L426.90,407.49 L427.27,409.62 L427.65,412.00 L428.02,414.58 L428.39,417.29 L428.76,420.09 L429.13,422.92 L429.50,425.74 L429.87,428.50 L430.25,431.15 L430.62,433.68 L430.99,436.05 L431.36,438.24 L431.73,440.24 L432.10,442.06 L432.47,443.68 L432.84,445.11 L433.21,446.36 L433.59,447.45 L433.96,448.37 L434.33,448.90 L434.70,448.90" fill="none" stroke="#333" stroke-width="0.9" stroke-dasharray="1.3 1.2"/>
<path d="M392.80,448.90 L393.03,448.90 L393.27,448.90 L393.50,448.47 L393.74,447.91 L393.97,447.30 L394.20,446.62 L394.44,445.87 L394.67,445.06 L394.90,444.18 L395.14,443.22 L395.37,442.18 L395.61,441.07 L395.84,439.89 L396.07,438.62 L396.31,437.29 L396.54,435.88 L396.77,434.40 L397.01,432.85 L397.24,431.25 L397.48,429.59 L397.71,427.89 L397.94,426.15 L398.18,424.39 L398.41,422.61 L398.64,420.82 L398.88,419.05 L399.11,417.29 L399.35,415.57 L399.58,413.89 L399.81,412.28 L400.05,410.74 L400.28,409.29 L400.51,407.94 L400.75,406.71 L400.98,405.60 L401.22,404.63 L401.45,403.81 L401.68,403.14 L401.92,402.63 L402.15,402.29 L402.38,402.12 L402.62,402.13 L402.85,402.33 L403.08,402.73 L403.32,403.32 L403.55,404.10 L403.79,405.06 L404.02,406.19 L404.25,407.46 L404.49,408.88 L404.72,410.42 L404.95,412.07 L405.19,413.81 L405.42,415.63 L405.66,417.49 L405.89,419.40 L406.12,421.33 L406.36,423.26 L406.59,425.18 L406.82,427.08 L407.06,428.94 L407.29,430.75 L407.53,432.50 L407.76,434.18 L407.99,435.79 L408.23,437.32 L408.46,438.76 L408.69,440.12 L408.93,441.38 L409.16,442.56 L409.40,443.64 L409.63,444.64 L409.86,445.56 L410.10,446.39 L410.33,447.14 L410.56,447.82 L410.80,448.43 L411.03,448.90 L411.27,448.90 L411.50,448.90" fill="none" stroke="#2a2a2a" stroke-width="1.05" stroke-dasharray="1.3 1.3"/>
<rect x="387.50" y="398.50" width="1.10" height="51.20" fill="#787878" />
<rect x="444.10" y="398.50" width="1.10" height="51.20" fill="#787878" />
<text x="386.40" y="401.40" font-size="3.2" font-weight="700" text-anchor="end" fill="#666">100</text>
<text x="386.40" y="411.30" font-size="3.2" font-weight="700" text-anchor="end" fill="#666">80</text>
<text x="386.40" y="421.20" font-size="3.2" font-weight="700" text-anchor="end" fill="#666">60</text>
<text x="386.40" y="431.10" font-size="3.2" font-weight="700" text-anchor="end" fill="#666">40</text>
<text x="386.40" y="441.00" font-size="3.2" font-weight="700" text-anchor="end" fill="#666">20</text>
<text x="388.00" y="454.40" font-size="3.4" font-weight="700" text-anchor="middle" fill="#555">10</text>
<text x="402.15" y="454.40" font-size="3.4" font-weight="700" text-anchor="middle" fill="#555">10</text>
<text x="416.30" y="454.40" font-size="3.4" font-weight="700" text-anchor="middle" fill="#555">10</text>
<text x="430.45" y="454.40" font-size="3.4" font-weight="700" text-anchor="middle" fill="#555">10</text>
<text x="444.60" y="454.40" font-size="3.4" font-weight="700" text-anchor="middle" fill="#555">10</text>
<path d="M182.00,508.90 L182.49,508.81 L182.99,508.69 L183.48,508.56 L183.97,508.40 L184.46,508.21 L184.96,508.00 L185.45,507.76 L185.94,507.50 L186.43,507.22 L186.93,506.92 L187.42,506.61 L187.91,506.30 L188.40,505.99 L188.90,505.69 L189.39,505.42 L189.88,505.18 L190.37,504.98 L190.87,504.82 L191.36,504.72 L191.85,504.67 L192.34,504.68 L192.84,504.72 L193.33,504.79 L193.82,504.90 L194.31,505.04 L194.81,505.20 L195.30,505.38 L195.79,505.59 L196.28,505.81 L196.78,506.04 L197.27,506.27 L197.76,506.51 L198.25,506.75 L198.75,506.99 L199.24,507.22 L199.73,507.44 L200.22,507.64 L200.72,507.84 L201.21,507.70 L201.70,506.69 L202.19,505.52 L202.69,504.19 L203.18,502.68 L203.67,500.99 L204.16,499.12 L204.66,497.07 L205.15,494.85 L205.64,492.47 L206.13,489.96 L206.62,487.33 L207.12,484.62 L207.61,481.87 L208.10,479.12 L208.59,476.41 L209.09,473.80 L209.58,471.34 L210.07,469.06 L210.56,467.04 L211.06,465.30 L211.55,463.89 L212.04,462.83 L212.53,462.17 L213.03,461.90 L213.52,462.29 L214.01,463.70 L214.50,466.06 L215.00,469.23 L215.49,473.03 L215.98,477.24 L216.48,481.66 L216.97,486.09 L217.46,490.35 L217.95,494.32 L218.44,497.88 L218.94,500.99 L219.43,503.63 L219.92,505.81 L220.42,507.55 L220.91,508.90 L221.40,508.90 L221.40,508.90 L182.00,508.90 Z" fill="#e4e4e4"/>
<path d="M182.00,508.90 L182.49,508.81 L182.99,508.69 L183.48,508.56 L183.97,508.40 L184.46,508.21 L184.96,508.00 L185.45,507.76 L185.94,507.50 L186.43,507.22 L186.93,506.92 L187.42,506.61 L187.91,506.30 L188.40,505.99 L188.90,505.69 L189.39,505.42 L189.88,505.18 L190.37,504.98 L190.87,504.82 L191.36,504.72 L191.85,504.67 L192.34,504.68 L192.84,504.72 L193.33,504.79 L193.82,504.90 L194.31,505.04 L194.81,505.20 L195.30,505.38 L195.79,505.59 L196.28,505.81 L196.78,506.04 L197.27,506.27 L197.76,506.51 L198.25,506.75 L198.75,506.99 L199.24,507.22 L199.73,507.44 L200.22,507.64 L200.72,507.84 L201.21,507.70 L201.70,506.69 L202.19,505.52 L202.69,504.19 L203.18,502.68 L203.67,500.99 L204.16,499.12 L204.66,497.07 L205.15,494.85 L205.64,492.47 L206.13,489.96 L206.62,487.33 L207.12,484.62 L207.61,481.87 L208.10,479.12 L208.59,476.41 L209.09,473.80 L209.58,471.34 L210.07,469.06 L210.56,467.04 L211.06,465.30 L211.55,463.89 L212.04,462.83 L212.53,462.17 L213.03,461.90 L213.52,462.29 L214.01,463.70 L214.50,466.06 L215.00,469.23 L215.49,473.03 L215.98,477.24 L216.48,481.66 L216.97,486.09 L217.46,490.35 L217.95,494.32 L218.44,497.88 L218.94,500.99 L219.43,503.63 L219.92,505.81 L220.42,507.55 L220.91,508.90 L221.40,508.90" fill="none" stroke="#b0b0b0" stroke-width="0.8" stroke-dasharray="1.2 1.2"/>
<path d="M212.80,508.90 L213.04,508.90 L213.29,508.90 L213.53,508.40 L213.77,507.82 L214.01,507.17 L214.25,506.45 L214.50,505.65 L214.74,504.79 L214.98,503.84 L215.23,502.81 L215.47,501.71 L215.71,500.51 L215.95,499.24 L216.19,497.89 L216.44,496.45 L216.68,494.94 L216.92,493.35 L217.17,491.70 L217.41,490.00 L217.65,488.23 L217.89,486.43 L218.13,484.60 L218.38,482.75 L218.62,480.89 L218.86,479.03 L219.11,477.20 L219.35,475.41 L219.59,473.66 L219.83,471.99 L220.07,470.39 L220.32,468.90 L220.56,467.51 L220.80,466.26 L221.05,465.14 L221.29,464.17 L221.53,463.37 L221.77,462.73 L222.01,462.27 L222.26,461.99 L222.50,461.90 L222.74,461.99 L222.99,462.27 L223.23,462.73 L223.47,463.37 L223.71,464.17 L223.95,465.14 L224.20,466.26 L224.44,467.51 L224.68,468.90 L224.93,470.39 L225.17,471.99 L225.41,473.66 L225.65,475.41 L225.89,477.20 L226.14,479.03 L226.38,480.89 L226.62,482.75 L226.87,484.60 L227.11,486.43 L227.35,488.23 L227.59,490.00 L227.83,491.70 L228.08,493.35 L228.32,494.94 L228.56,496.45 L228.81,497.89 L229.05,499.24 L229.29,500.51 L229.53,501.71 L229.77,502.81 L230.02,503.84 L230.26,504.79 L230.50,505.65 L230.75,506.45 L230.99,507.17 L231.23,507.82 L231.47,508.40 L231.71,508.90 L231.96,508.90 L232.20,508.90 L232.20,508.90 L212.80,508.90 Z" fill="#c4c4c4"/>
<path d="M212.80,508.90 L213.04,508.90 L213.29,508.90 L213.53,508.40 L213.77,507.82 L214.01,507.17 L214.25,506.45 L214.50,505.65 L214.74,504.79 L214.98,503.84 L215.23,502.81 L215.47,501.71 L215.71,500.51 L215.95,499.24 L216.19,497.89 L216.44,496.45 L216.68,494.94 L216.92,493.35 L217.17,491.70 L217.41,490.00 L217.65,488.23 L217.89,486.43 L218.13,484.60 L218.38,482.75 L218.62,480.89 L218.86,479.03 L219.11,477.20 L219.35,475.41 L219.59,473.66 L219.83,471.99 L220.07,470.39 L220.32,468.90 L220.56,467.51 L220.80,466.26 L221.05,465.14 L221.29,464.17 L221.53,463.37 L221.77,462.73 L222.01,462.27 L222.26,461.99 L222.50,461.90 L222.74,461.99 L222.99,462.27 L223.23,462.73 L223.47,463.37 L223.71,464.17 L223.95,465.14 L224.20,466.26 L224.44,467.51 L224.68,468.90 L224.93,470.39 L225.17,471.99 L225.41,473.66 L225.65,475.41 L225.89,477.20 L226.14,479.03 L226.38,480.89 L226.62,482.75 L226.87,484.60 L227.11,486.43 L227.35,488.23 L227.59,490.00 L227.83,491.70 L228.08,493.35 L228.32,494.94 L228.56,496.45 L228.81,497.89 L229.05,499.24 L229.29,500.51 L229.53,501.71 L229.77,502.81 L230.02,503.84 L230.26,504.79 L230.50,505.65 L230.75,506.45 L230.99,507.17 L231.23,507.82 L231.47,508.40 L231.71,508.90 L231.96,508.90 L232.20,508.90" fill="none" stroke="#333" stroke-width="0.9" stroke-dasharray="1.3 1.2"/>
<path d="M180.30,508.90 L180.52,508.90 L180.75,508.90 L180.97,508.54 L181.19,508.02 L181.41,507.44 L181.64,506.81 L181.86,506.12 L182.08,505.37 L182.30,504.55 L182.53,503.67 L182.75,502.71 L182.97,501.69 L183.19,500.60 L183.42,499.44 L183.64,498.21 L183.86,496.92 L184.08,495.55 L184.31,494.13 L184.53,492.65 L184.75,491.11 L184.97,489.53 L185.19,487.90 L185.42,486.24 L185.64,484.56 L185.86,482.86 L186.09,481.15 L186.31,479.45 L186.53,477.77 L186.75,476.10 L186.97,474.48 L187.20,472.91 L187.42,471.40 L187.64,469.97 L187.87,468.62 L188.09,467.36 L188.31,466.22 L188.53,465.19 L188.75,464.29 L188.98,463.53 L189.20,462.90 L189.42,462.42 L189.65,462.10 L189.87,461.93 L190.09,461.92 L190.31,462.13 L190.53,462.56 L190.76,463.21 L190.98,464.08 L191.20,465.14 L191.43,466.39 L191.65,467.81 L191.87,469.39 L192.09,471.09 L192.31,472.91 L192.54,474.82 L192.76,476.80 L192.98,478.83 L193.20,480.88 L193.43,482.95 L193.65,485.01 L193.87,487.03 L194.09,489.02 L194.32,490.95 L194.54,492.81 L194.76,494.59 L194.98,496.28 L195.21,497.88 L195.43,499.38 L195.65,500.78 L195.88,502.08 L196.10,503.27 L196.32,504.37 L196.54,505.37 L196.76,506.27 L196.99,507.08 L197.21,507.81 L197.43,508.46 L197.66,508.90 L197.88,508.90 L198.10,508.90" fill="none" stroke="#2a2a2a" stroke-width="1.05" stroke-dasharray="1.3 1.3"/>
<rect x="176.50" y="458.30" width="1.10" height="51.40" fill="#787878" />
<rect x="233.20" y="458.30" width="1.10" height="51.40" fill="#787878" />
<rect x="176.50" y="457.80" width="57.70" height="1.10" fill="#787878" />
<rect x="176.50" y="508.60" width="57.70" height="1.30" fill="#111" />
<text x="175.40" y="461.20" font-size="3.2" font-weight="700" text-anchor="end" fill="#666">100</text>
<text x="175.40" y="471.10" font-size="3.2" font-weight="700" text-anchor="end" fill="#666">80</text>
<text x="175.40" y="481.00" font-size="3.2" font-weight="700" text-anchor="end" fill="#666">60</text>
<text x="175.40" y="490.90" font-size="3.2" font-weight="700" text-anchor="end" fill="#666">40</text>
<text x="175.40" y="500.80" font-size="3.2" font-weight="700" text-anchor="end" fill="#666">20</text>
<text x="177.00" y="514.40" font-size="3.4" font-weight="700" text-anchor="middle" fill="#555">10</text>
<text x="191.18" y="514.40" font-size="3.4" font-weight="700" text-anchor="middle" fill="#555">10</text>
<text x="205.35" y="514.40" font-size="3.4" font-weight="700" text-anchor="middle" fill="#555">10</text>
<text x="219.52" y="514.40" font-size="3.4" font-weight="700" text-anchor="middle" fill="#555">10</text>
<text x="233.70" y="514.40" font-size="3.4" font-weight="700" text-anchor="middle" fill="#555">10</text>
<path d="M251.00,508.90 L251.25,508.90 L251.51,508.89 L251.76,508.48 L252.01,508.03 L252.27,507.54 L252.52,507.02 L252.77,506.45 L253.03,505.83 L253.28,505.17 L253.53,504.46 L253.78,503.71 L254.04,502.90 L254.29,502.04 L254.54,501.13 L254.80,500.18 L255.05,499.17 L255.30,498.11 L255.56,497.00 L255.81,495.84 L256.06,494.64 L256.32,493.39 L256.57,492.11 L256.82,490.78 L257.07,489.42 L257.33,488.04 L257.58,486.62 L257.83,485.19 L258.09,483.74 L258.34,482.29 L258.59,480.83 L258.85,479.37 L259.10,477.93 L259.35,476.51 L259.61,475.11 L259.86,473.75 L260.11,472.42 L260.37,471.15 L260.62,469.93 L260.87,468.77 L261.12,467.69 L261.38,466.68 L261.63,465.75 L261.88,464.91 L262.14,464.17 L262.39,463.52 L262.64,462.98 L262.90,462.54 L263.15,462.22 L263.40,462.01 L263.66,461.91 L263.91,461.97 L264.16,462.36 L264.42,463.10 L264.67,464.15 L264.92,465.51 L265.18,467.15 L265.43,469.03 L265.68,471.13 L265.93,473.39 L266.19,475.78 L266.44,478.27 L266.69,480.80 L266.95,483.35 L267.20,485.88 L267.45,488.36 L267.71,490.76 L267.96,493.05 L268.21,495.22 L268.47,497.26 L268.72,499.15 L268.97,500.88 L269.23,502.46 L269.48,503.88 L269.73,505.16 L269.98,506.28 L270.24,507.28 L270.49,508.14 L270.74,508.88 L271.00,508.90 L271.25,508.90 L271.25,508.90 L251.00,508.90 Z" fill="#e4e4e4"/>
<path d="M251.00,508.90 L251.25,508.90 L251.51,508.89 L251.76,508.48 L252.01,508.03 L252.27,507.54 L252.52,507.02 L252.77,506.45 L253.03,505.83 L253.28,505.17 L253.53,504.46 L253.78,503.71 L254.04,502.90 L254.29,502.04 L254.54,501.13 L254.80,500.18 L255.05,499.17 L255.30,498.11 L255.56,497.00 L255.81,495.84 L256.06,494.64 L256.32,493.39 L256.57,492.11 L256.82,490.78 L257.07,489.42 L257.33,488.04 L257.58,486.62 L257.83,485.19 L258.09,483.74 L258.34,482.29 L258.59,480.83 L258.85,479.37 L259.10,477.93 L259.35,476.51 L259.61,475.11 L259.86,473.75 L260.11,472.42 L260.37,471.15 L260.62,469.93 L260.87,468.77 L261.12,467.69 L261.38,466.68 L261.63,465.75 L261.88,464.91 L262.14,464.17 L262.39,463.52 L262.64,462.98 L262.90,462.54 L263.15,462.22 L263.40,462.01 L263.66,461.91 L263.91,461.97 L264.16,462.36 L264.42,463.10 L264.67,464.15 L264.92,465.51 L265.18,467.15 L265.43,469.03 L265.68,471.13 L265.93,473.39 L266.19,475.78 L266.44,478.27 L266.69,480.80 L266.95,483.35 L267.20,485.88 L267.45,488.36 L267.71,490.76 L267.96,493.05 L268.21,495.22 L268.47,497.26 L268.72,499.15 L268.97,500.88 L269.23,502.46 L269.48,503.88 L269.73,505.16 L269.98,506.28 L270.24,507.28 L270.49,508.14 L270.74,508.88 L271.00,508.90 L271.25,508.90" fill="none" stroke="#b0b0b0" stroke-width="0.8" stroke-dasharray="1.2 1.2"/>
<path d="M268.20,508.90 L268.50,508.90 L268.80,508.76 L269.10,508.31 L269.40,507.83 L269.70,507.29 L270.00,506.72 L270.30,506.09 L270.60,505.41 L270.90,504.69 L271.20,503.90 L271.50,503.07 L271.80,502.18 L272.10,501.23 L272.40,500.22 L272.70,499.16 L273.00,498.05 L273.30,496.88 L273.60,495.65 L273.90,494.38 L274.20,493.06 L274.50,491.69 L274.80,490.29 L275.10,488.85 L275.40,487.37 L275.70,485.87 L276.00,484.36 L276.30,482.83 L276.60,481.30 L276.90,479.76 L277.20,478.24 L277.50,476.74 L277.80,475.27 L278.10,473.83 L278.40,472.43 L278.70,471.09 L279.00,469.82 L279.30,468.61 L279.60,467.48 L279.90,466.43 L280.20,465.48 L280.50,464.63 L280.80,463.89 L281.10,463.26 L281.40,462.74 L281.70,462.35 L282.00,462.08 L282.30,461.93 L282.60,461.92 L282.90,462.15 L283.20,462.67 L283.50,463.46 L283.80,464.50 L284.10,465.79 L284.40,467.30 L284.70,469.00 L285.00,470.88 L285.30,472.89 L285.60,475.02 L285.90,477.24 L286.20,479.51 L286.50,481.81 L286.80,484.10 L287.10,486.38 L287.40,488.60 L287.70,490.76 L288.00,492.83 L288.30,494.81 L288.60,496.68 L288.90,498.43 L289.20,500.05 L289.50,501.55 L289.80,502.92 L290.10,504.17 L290.40,505.30 L290.70,506.30 L291.00,507.20 L291.30,507.99 L291.60,508.69 L291.90,508.90 L292.20,508.90 L292.20,508.90 L268.20,508.90 Z" fill="#c4c4c4"/>
<path d="M268.20,508.90 L268.50,508.90 L268.80,508.76 L269.10,508.31 L269.40,507.83 L269.70,507.29 L270.00,506.72 L270.30,506.09 L270.60,505.41 L270.90,504.69 L271.20,503.90 L271.50,503.07 L271.80,502.18 L272.10,501.23 L272.40,500.22 L272.70,499.16 L273.00,498.05 L273.30,496.88 L273.60,495.65 L273.90,494.38 L274.20,493.06 L274.50,491.69 L274.80,490.29 L275.10,488.85 L275.40,487.37 L275.70,485.87 L276.00,484.36 L276.30,482.83 L276.60,481.30 L276.90,479.76 L277.20,478.24 L277.50,476.74 L277.80,475.27 L278.10,473.83 L278.40,472.43 L278.70,471.09 L279.00,469.82 L279.30,468.61 L279.60,467.48 L279.90,466.43 L280.20,465.48 L280.50,464.63 L280.80,463.89 L281.10,463.26 L281.40,462.74 L281.70,462.35 L282.00,462.08 L282.30,461.93 L282.60,461.92 L282.90,462.15 L283.20,462.67 L283.50,463.46 L283.80,464.50 L284.10,465.79 L284.40,467.30 L284.70,469.00 L285.00,470.88 L285.30,472.89 L285.60,475.02 L285.90,477.24 L286.20,479.51 L286.50,481.81 L286.80,484.10 L287.10,486.38 L287.40,488.60 L287.70,490.76 L288.00,492.83 L288.30,494.81 L288.60,496.68 L288.90,498.43 L289.20,500.05 L289.50,501.55 L289.80,502.92 L290.10,504.17 L290.40,505.30 L290.70,506.30 L291.00,507.20 L291.30,507.99 L291.60,508.69 L291.90,508.90 L292.20,508.90" fill="none" stroke="#333" stroke-width="0.9" stroke-dasharray="1.3 1.2"/>
<path d="M250.30,508.90 L250.52,508.90 L250.73,508.90 L250.95,508.59 L251.16,508.09 L251.38,507.54 L251.59,506.94 L251.81,506.29 L252.02,505.58 L252.24,504.80 L252.45,503.97 L252.67,503.08 L252.88,502.12 L253.09,501.09 L253.31,500.00 L253.53,498.84 L253.74,497.62 L253.96,496.34 L254.17,495.00 L254.39,493.60 L254.60,492.15 L254.81,490.65 L255.03,489.11 L255.25,487.53 L255.46,485.92 L255.68,484.29 L255.89,482.65 L256.11,481.00 L256.32,479.36 L256.54,477.73 L256.75,476.12 L256.97,474.55 L257.18,473.03 L257.39,471.57 L257.61,470.17 L257.82,468.85 L258.04,467.62 L258.25,466.49 L258.47,465.47 L258.69,464.56 L258.90,463.78 L259.12,463.12 L259.33,462.60 L259.55,462.23 L259.76,461.99 L259.98,461.90 L260.19,462.00 L260.41,462.35 L260.62,462.94 L260.83,463.77 L261.05,464.82 L261.26,466.09 L261.48,467.54 L261.69,469.17 L261.91,470.94 L262.12,472.84 L262.34,474.85 L262.56,476.93 L262.77,479.06 L262.99,481.22 L263.20,483.38 L263.42,485.53 L263.63,487.65 L263.85,489.72 L264.06,491.71 L264.27,493.63 L264.49,495.45 L264.70,497.18 L264.92,498.80 L265.13,500.30 L265.35,501.70 L265.56,502.98 L265.78,504.16 L266.00,505.22 L266.21,506.18 L266.43,507.04 L266.64,507.81 L266.86,508.49 L267.07,508.90 L267.29,508.90 L267.50,508.90" fill="none" stroke="#2a2a2a" stroke-width="1.05" stroke-dasharray="1.3 1.3"/>
<rect x="246.80" y="457.80" width="57.50" height="1.10" fill="#787878" />
<rect x="246.80" y="508.60" width="57.50" height="1.30" fill="#111" />
<text x="245.70" y="461.20" font-size="3.2" font-weight="700" text-anchor="end" fill="#666">100</text>
<text x="245.70" y="471.10" font-size="3.2" font-weight="700" text-anchor="end" fill="#666">80</text>
<text x="245.70" y="481.00" font-size="3.2" font-weight="700" text-anchor="end" fill="#666">60</text>
<text x="245.70" y="490.90" font-size="3.2" font-weight="700" text-anchor="end" fill="#666">40</text>
<text x="245.70" y="500.80" font-size="3.2" font-weight="700" text-anchor="end" fill="#666">20</text>
<text x="247.30" y="514.40" font-size="3.4" font-weight="700" text-anchor="middle" fill="#555">10</text>
<text x="261.43" y="514.40" font-size="3.4" font-weight="700" text-anchor="middle" fill="#555">10</text>
<text x="275.55" y="514.40" font-size="3.4" font-weight="700" text-anchor="middle" fill="#555">10</text>
<text x="289.68" y="514.40" font-size="3.4" font-weight="700" text-anchor="middle" fill="#555">10</text>
<text x="303.80" y="514.40" font-size="3.4" font-weight="700" text-anchor="middle" fill="#555">10</text>
<path d="M321.50,508.90 L321.75,508.90 L322.00,508.90 L322.25,508.36 L322.50,507.75 L322.75,507.07 L323.00,506.32 L323.25,505.50 L323.50,504.59 L323.75,503.60 L324.00,502.53 L324.25,501.37 L324.50,500.12 L324.75,498.79 L325.00,497.37 L325.25,495.87 L325.50,494.29 L325.75,492.63 L326.00,490.91 L326.25,489.13 L326.50,487.31 L326.75,485.44 L327.00,483.55 L327.25,481.64 L327.50,479.74 L327.75,477.85 L328.00,475.99 L328.25,474.19 L328.50,472.45 L328.75,470.79 L329.00,469.23 L329.25,467.78 L329.50,466.47 L329.75,465.30 L330.00,464.29 L330.25,463.44 L330.50,462.77 L330.75,462.29 L331.00,462.00 L331.25,461.90 L331.50,461.99 L331.75,462.25 L332.00,462.69 L332.25,463.29 L332.50,464.05 L332.75,464.97 L333.00,466.03 L333.25,467.23 L333.50,468.55 L333.75,469.98 L334.00,471.50 L334.25,473.11 L334.50,474.78 L334.75,476.51 L335.00,478.28 L335.25,480.08 L335.50,481.89 L335.75,483.69 L336.00,485.49 L336.25,487.26 L336.50,488.99 L336.75,490.69 L337.00,492.33 L337.25,493.91 L337.50,495.43 L337.75,496.88 L338.00,498.25 L338.25,499.55 L338.50,500.77 L338.75,501.92 L339.00,502.98 L339.25,503.97 L339.50,504.88 L339.75,505.72 L340.00,506.48 L340.25,507.18 L340.50,507.81 L340.75,508.39 L341.00,508.90 L341.25,508.90 L341.50,508.90 L341.50,508.90 L321.50,508.90 Z" fill="#e4e4e4"/>
<path d="M321.50,508.90 L321.75,508.90 L322.00,508.90 L322.25,508.36 L322.50,507.75 L322.75,507.07 L323.00,506.32 L323.25,505.50 L323.50,504.59 L323.75,503.60 L324.00,502.53 L324.25,501.37 L324.50,500.12 L324.75,498.79 L325.00,497.37 L325.25,495.87 L325.50,494.29 L325.75,492.63 L326.00,490.91 L326.25,489.13 L326.50,487.31 L326.75,485.44 L327.00,483.55 L327.25,481.64 L327.50,479.74 L327.75,477.85 L328.00,475.99 L328.25,474.19 L328.50,472.45 L328.75,470.79 L329.00,469.23 L329.25,467.78 L329.50,466.47 L329.75,465.30 L330.00,464.29 L330.25,463.44 L330.50,462.77 L330.75,462.29 L331.00,462.00 L331.25,461.90 L331.50,461.99 L331.75,462.25 L332.00,462.69 L332.25,463.29 L332.50,464.05 L332.75,464.97 L333.00,466.03 L333.25,467.23 L333.50,468.55 L333.75,469.98 L334.00,471.50 L334.25,473.11 L334.50,474.78 L334.75,476.51 L335.00,478.28 L335.25,480.08 L335.50,481.89 L335.75,483.69 L336.00,485.49 L336.25,487.26 L336.50,488.99 L336.75,490.69 L337.00,492.33 L337.25,493.91 L337.50,495.43 L337.75,496.88 L338.00,498.25 L338.25,499.55 L338.50,500.77 L338.75,501.92 L339.00,502.98 L339.25,503.97 L339.50,504.88 L339.75,505.72 L340.00,506.48 L340.25,507.18 L340.50,507.81 L340.75,508.39 L341.00,508.90 L341.25,508.90 L341.50,508.90" fill="none" stroke="#b0b0b0" stroke-width="0.8" stroke-dasharray="1.2 1.2"/>
<path d="M337.00,508.90 L337.33,508.73 L337.65,508.54 L337.98,508.32 L338.31,508.08 L338.63,507.81 L338.96,507.52 L339.28,507.20 L339.61,506.85 L339.94,506.48 L340.26,506.07 L340.59,505.64 L340.92,505.17 L341.24,504.69 L341.57,504.17 L341.89,503.64 L342.22,503.08 L342.55,502.51 L342.87,501.92 L343.20,501.33 L343.52,500.73 L343.85,500.13 L344.18,499.53 L344.50,498.95 L344.83,498.38 L345.16,497.84 L345.48,497.33 L345.81,496.85 L346.13,496.41 L346.46,496.01 L346.79,495.66 L347.11,495.37 L347.44,495.14 L347.77,494.96 L348.09,494.85 L348.42,494.80 L348.75,495.00 L349.07,495.83 L349.40,497.22 L349.72,498.35 L350.05,496.02 L350.38,493.49 L350.70,490.78 L351.03,487.92 L351.36,484.96 L351.68,481.94 L352.01,478.92 L352.33,475.96 L352.66,473.12 L352.99,470.47 L353.31,468.09 L353.64,466.02 L353.97,464.32 L354.29,463.05 L354.62,462.24 L354.94,461.91 L355.27,462.07 L355.60,462.72 L355.92,463.83 L356.25,465.39 L356.58,467.33 L356.90,469.62 L357.23,472.18 L357.55,474.96 L357.88,477.89 L358.21,480.90 L358.53,483.92 L358.86,486.91 L359.19,489.81 L359.51,492.57 L359.84,495.17 L360.16,497.57 L360.49,499.77 L360.82,501.74 L361.14,503.50 L361.47,505.05 L361.80,506.39 L362.12,507.53 L362.45,508.50 L362.77,508.90 L363.10,508.90 L363.10,508.90 L337.00,508.90 Z" fill="#c4c4c4"/>
<path d="M337.00,508.90 L337.33,508.73 L337.65,508.54 L337.98,508.32 L338.31,508.08 L338.63,507.81 L338.96,507.52 L339.28,507.20 L339.61,506.85 L339.94,506.48 L340.26,506.07 L340.59,505.64 L340.92,505.17 L341.24,504.69 L341.57,504.17 L341.89,503.64 L342.22,503.08 L342.55,502.51 L342.87,501.92 L343.20,501.33 L343.52,500.73 L343.85,500.13 L344.18,499.53 L344.50,498.95 L344.83,498.38 L345.16,497.84 L345.48,497.33 L345.81,496.85 L346.13,496.41 L346.46,496.01 L346.79,495.66 L347.11,495.37 L347.44,495.14 L347.77,494.96 L348.09,494.85 L348.42,494.80 L348.75,495.00 L349.07,495.83 L349.40,497.22 L349.72,498.35 L350.05,496.02 L350.38,493.49 L350.70,490.78 L351.03,487.92 L351.36,484.96 L351.68,481.94 L352.01,478.92 L352.33,475.96 L352.66,473.12 L352.99,470.47 L353.31,468.09 L353.64,466.02 L353.97,464.32 L354.29,463.05 L354.62,462.24 L354.94,461.91 L355.27,462.07 L355.60,462.72 L355.92,463.83 L356.25,465.39 L356.58,467.33 L356.90,469.62 L357.23,472.18 L357.55,474.96 L357.88,477.89 L358.21,480.90 L358.53,483.92 L358.86,486.91 L359.19,489.81 L359.51,492.57 L359.84,495.17 L360.16,497.57 L360.49,499.77 L360.82,501.74 L361.14,503.50 L361.47,505.05 L361.80,506.39 L362.12,507.53 L362.45,508.50 L362.77,508.90 L363.10,508.90" fill="none" stroke="#333" stroke-width="0.9" stroke-dasharray="1.3 1.2"/>
<path d="M321.50,508.90 L321.75,508.90 L322.00,508.90 L322.25,508.36 L322.50,507.75 L322.75,507.07 L323.00,506.32 L323.25,505.50 L323.50,504.59 L323.75,503.60 L324.00,502.53 L324.25,501.37 L324.50,500.12 L324.75,498.79 L325.00,497.37 L325.25,495.87 L325.50,494.29 L325.75,492.63 L326.00,490.91 L326.25,489.13 L326.50,487.31 L326.75,485.44 L327.00,483.55 L327.25,481.64 L327.50,479.74 L327.75,477.85 L328.00,475.99 L328.25,474.19 L328.50,472.45 L328.75,470.79 L329.00,469.23 L329.25,467.78 L329.50,466.47 L329.75,465.30 L330.00,464.29 L330.25,463.44 L330.50,462.77 L330.75,462.29 L331.00,462.00 L331.25,461.90 L331.50,461.99 L331.75,462.25 L332.00,462.69 L332.25,463.29 L332.50,464.05 L332.75,464.97 L333.00,466.03 L333.25,467.23 L333.50,468.55 L333.75,469.98 L334.00,471.50 L334.25,473.11 L334.50,474.78 L334.75,476.51 L335.00,478.28 L335.25,480.08 L335.50,481.89 L335.75,483.69 L336.00,485.49 L336.25,487.26 L336.50,488.99 L336.75,490.69 L337.00,492.33 L337.25,493.91 L337.50,495.43 L337.75,496.88 L338.00,498.25 L338.25,499.55 L338.50,500.77 L338.75,501.92 L339.00,502.98 L339.25,503.97 L339.50,504.88 L339.75,505.72 L340.00,506.48 L340.25,507.18 L340.50,507.81 L340.75,508.39 L341.00,508.90 L341.25,508.90 L341.50,508.90" fill="none" stroke="#2a2a2a" stroke-width="1.05" stroke-dasharray="1.3 1.3"/>
<rect x="373.70" y="458.30" width="1.10" height="51.40" fill="#787878" />
<rect x="317.30" y="457.80" width="57.40" height="1.10" fill="#787878" />
<rect x="317.30" y="508.60" width="57.40" height="1.30" fill="#111" />
<text x="316.20" y="461.20" font-size="3.2" font-weight="700" text-anchor="end" fill="#666">100</text>
<text x="316.20" y="471.10" font-size="3.2" font-weight="700" text-anchor="end" fill="#666">80</text>
<text x="316.20" y="481.00" font-size="3.2" font-weight="700" text-anchor="end" fill="#666">60</text>
<text x="316.20" y="490.90" font-size="3.2" font-weight="700" text-anchor="end" fill="#666">40</text>
<text x="316.20" y="500.80" font-size="3.2" font-weight="700" text-anchor="end" fill="#666">20</text>
<text x="317.80" y="514.40" font-size="3.4" font-weight="700" text-anchor="middle" fill="#555">10</text>
<text x="331.90" y="514.40" font-size="3.4" font-weight="700" text-anchor="middle" fill="#555">10</text>
<text x="346.00" y="514.40" font-size="3.4" font-weight="700" text-anchor="middle" fill="#555">10</text>
<text x="360.10" y="514.40" font-size="3.4" font-weight="700" text-anchor="middle" fill="#555">10</text>
<text x="374.20" y="514.40" font-size="3.4" font-weight="700" text-anchor="middle" fill="#555">10</text>
<path d="M391.00,508.90 L391.22,508.90 L391.45,508.90 L391.67,508.53 L391.89,508.00 L392.12,507.41 L392.34,506.76 L392.57,506.05 L392.79,505.28 L393.01,504.44 L393.24,503.54 L393.46,502.56 L393.69,501.51 L393.91,500.39 L394.13,499.19 L394.36,497.93 L394.58,496.59 L394.80,495.19 L395.03,493.73 L395.25,492.20 L395.48,490.63 L395.70,489.00 L395.92,487.34 L396.15,485.64 L396.37,483.92 L396.59,482.19 L396.82,480.46 L397.04,478.73 L397.26,477.03 L397.49,475.36 L397.71,473.73 L397.94,472.16 L398.16,470.66 L398.38,469.25 L398.61,467.93 L398.83,466.71 L399.06,465.61 L399.28,464.64 L399.50,463.81 L399.73,463.12 L399.95,462.58 L400.17,462.19 L400.40,461.97 L400.62,461.90 L400.84,462.03 L401.07,462.38 L401.29,462.94 L401.52,463.71 L401.74,464.68 L401.96,465.83 L402.19,467.15 L402.41,468.62 L402.63,470.24 L402.86,471.96 L403.08,473.79 L403.31,475.70 L403.53,477.66 L403.75,479.66 L403.98,481.68 L404.20,483.70 L404.42,485.71 L404.65,487.68 L404.87,489.61 L405.10,491.48 L405.32,493.29 L405.54,495.01 L405.77,496.65 L405.99,498.19 L406.21,499.65 L406.44,501.00 L406.66,502.26 L406.89,503.41 L407.11,504.48 L407.33,505.45 L407.56,506.32 L407.78,507.12 L408.00,507.83 L408.23,508.46 L408.45,508.90 L408.68,508.90 L408.90,508.90 L408.90,508.90 L391.00,508.90 Z" fill="#e4e4e4"/>
<path d="M391.00,508.90 L391.22,508.90 L391.45,508.90 L391.67,508.53 L391.89,508.00 L392.12,507.41 L392.34,506.76 L392.57,506.05 L392.79,505.28 L393.01,504.44 L393.24,503.54 L393.46,502.56 L393.69,501.51 L393.91,500.39 L394.13,499.19 L394.36,497.93 L394.58,496.59 L394.80,495.19 L395.03,493.73 L395.25,492.20 L395.48,490.63 L395.70,489.00 L395.92,487.34 L396.15,485.64 L396.37,483.92 L396.59,482.19 L396.82,480.46 L397.04,478.73 L397.26,477.03 L397.49,475.36 L397.71,473.73 L397.94,472.16 L398.16,470.66 L398.38,469.25 L398.61,467.93 L398.83,466.71 L399.06,465.61 L399.28,464.64 L399.50,463.81 L399.73,463.12 L399.95,462.58 L400.17,462.19 L400.40,461.97 L400.62,461.90 L400.84,462.03 L401.07,462.38 L401.29,462.94 L401.52,463.71 L401.74,464.68 L401.96,465.83 L402.19,467.15 L402.41,468.62 L402.63,470.24 L402.86,471.96 L403.08,473.79 L403.31,475.70 L403.53,477.66 L403.75,479.66 L403.98,481.68 L404.20,483.70 L404.42,485.71 L404.65,487.68 L404.87,489.61 L405.10,491.48 L405.32,493.29 L405.54,495.01 L405.77,496.65 L405.99,498.19 L406.21,499.65 L406.44,501.00 L406.66,502.26 L406.89,503.41 L407.11,504.48 L407.33,505.45 L407.56,506.32 L407.78,507.12 L408.00,507.83 L408.23,508.46 L408.45,508.90 L408.68,508.90 L408.90,508.90" fill="none" stroke="#b0b0b0" stroke-width="0.8" stroke-dasharray="1.2 1.2"/>
<path d="M398.00,508.90 L398.46,508.65 L398.92,508.29 L399.38,507.82 L399.83,507.23 L400.29,506.53 L400.75,505.77 L401.21,505.00 L401.67,504.30 L402.13,503.73 L402.59,503.37 L403.05,503.26 L403.50,503.42 L403.96,503.83 L404.42,504.43 L404.88,505.16 L405.34,505.93 L405.80,506.68 L406.26,507.36 L406.72,507.92 L407.18,508.37 L407.63,508.70 L408.09,508.21 L408.55,507.60 L409.01,506.93 L409.47,506.19 L409.93,505.38 L410.39,504.49 L410.84,503.53 L411.30,502.48 L411.76,501.35 L412.22,500.14 L412.68,498.85 L413.14,497.48 L413.60,496.03 L414.06,494.51 L414.51,492.92 L414.97,491.26 L415.43,489.54 L415.89,487.78 L416.35,485.98 L416.81,484.15 L417.27,482.31 L417.73,480.46 L418.19,478.62 L418.64,476.80 L419.10,475.03 L419.56,473.31 L420.02,471.65 L420.48,470.09 L420.94,468.62 L421.40,467.27 L421.86,466.04 L422.31,464.96 L422.77,464.02 L423.23,463.25 L423.69,462.64 L424.15,462.22 L424.61,461.97 L425.07,461.91 L425.52,462.33 L425.98,463.41 L426.44,465.09 L426.90,467.30 L427.36,469.98 L427.82,473.02 L428.28,476.33 L428.74,479.79 L429.19,483.30 L429.65,486.78 L430.11,490.14 L430.57,493.31 L431.03,496.25 L431.49,498.92 L431.95,501.30 L432.41,503.38 L432.87,505.17 L433.32,506.69 L433.78,507.95 L434.24,508.90 L434.70,508.90 L434.70,508.90 L398.00,508.90 Z" fill="#c4c4c4"/>
<path d="M398.00,508.90 L398.46,508.65 L398.92,508.29 L399.38,507.82 L399.83,507.23 L400.29,506.53 L400.75,505.77 L401.21,505.00 L401.67,504.30 L402.13,503.73 L402.59,503.37 L403.05,503.26 L403.50,503.42 L403.96,503.83 L404.42,504.43 L404.88,505.16 L405.34,505.93 L405.80,506.68 L406.26,507.36 L406.72,507.92 L407.18,508.37 L407.63,508.70 L408.09,508.21 L408.55,507.60 L409.01,506.93 L409.47,506.19 L409.93,505.38 L410.39,504.49 L410.84,503.53 L411.30,502.48 L411.76,501.35 L412.22,500.14 L412.68,498.85 L413.14,497.48 L413.60,496.03 L414.06,494.51 L414.51,492.92 L414.97,491.26 L415.43,489.54 L415.89,487.78 L416.35,485.98 L416.81,484.15 L417.27,482.31 L417.73,480.46 L418.19,478.62 L418.64,476.80 L419.10,475.03 L419.56,473.31 L420.02,471.65 L420.48,470.09 L420.94,468.62 L421.40,467.27 L421.86,466.04 L422.31,464.96 L422.77,464.02 L423.23,463.25 L423.69,462.64 L424.15,462.22 L424.61,461.97 L425.07,461.91 L425.52,462.33 L425.98,463.41 L426.44,465.09 L426.90,467.30 L427.36,469.98 L427.82,473.02 L428.28,476.33 L428.74,479.79 L429.19,483.30 L429.65,486.78 L430.11,490.14 L430.57,493.31 L431.03,496.25 L431.49,498.92 L431.95,501.30 L432.41,503.38 L432.87,505.17 L433.32,506.69 L433.78,507.95 L434.24,508.90 L434.70,508.90" fill="none" stroke="#333" stroke-width="0.9" stroke-dasharray="1.3 1.2"/>
<path d="M391.00,508.90 L391.22,508.90 L391.45,508.90 L391.67,508.53 L391.89,508.00 L392.12,507.41 L392.34,506.76 L392.57,506.05 L392.79,505.28 L393.01,504.44 L393.24,503.54 L393.46,502.56 L393.69,501.51 L393.91,500.39 L394.13,499.19 L394.36,497.93 L394.58,496.59 L394.80,495.19 L395.03,493.73 L395.25,492.20 L395.48,490.63 L395.70,489.00 L395.92,487.34 L396.15,485.64 L396.37,483.92 L396.59,482.19 L396.82,480.46 L397.04,478.73 L397.26,477.03 L397.49,475.36 L397.71,473.73 L397.94,472.16 L398.16,470.66 L398.38,469.25 L398.61,467.93 L398.83,466.71 L399.06,465.61 L399.28,464.64 L399.50,463.81 L399.73,463.12 L399.95,462.58 L400.17,462.19 L400.40,461.97 L400.62,461.90 L400.84,462.03 L401.07,462.38 L401.29,462.94 L401.52,463.71 L401.74,464.68 L401.96,465.83 L402.19,467.15 L402.41,468.62 L402.63,470.24 L402.86,471.96 L403.08,473.79 L403.31,475.70 L403.53,477.66 L403.75,479.66 L403.98,481.68 L404.20,483.70 L404.42,485.71 L404.65,487.68 L404.87,489.61 L405.10,491.48 L405.32,493.29 L405.54,495.01 L405.77,496.65 L405.99,498.19 L406.21,499.65 L406.44,501.00 L406.66,502.26 L406.89,503.41 L407.11,504.48 L407.33,505.45 L407.56,506.32 L407.78,507.12 L408.00,507.83 L408.23,508.46 L408.45,508.90 L408.68,508.90 L408.90,508.90" fill="none" stroke="#2a2a2a" stroke-width="1.05" stroke-dasharray="1.3 1.3"/>
<rect x="387.50" y="458.30" width="1.10" height="51.40" fill="#787878" />
<rect x="444.10" y="458.30" width="1.10" height="51.40" fill="#787878" />
<rect x="387.50" y="457.80" width="57.60" height="1.10" fill="#787878" />
<rect x="387.50" y="508.60" width="57.60" height="1.30" fill="#111" />
<text x="386.40" y="461.20" font-size="3.2" font-weight="700" text-anchor="end" fill="#666">100</text>
<text x="386.40" y="471.10" font-size="3.2" font-weight="700" text-anchor="end" fill="#666">80</text>
<text x="386.40" y="481.00" font-size="3.2" font-weight="700" text-anchor="end" fill="#666">60</text>
<text x="386.40" y="490.90" font-size="3.2" font-weight="700" text-anchor="end" fill="#666">40</text>
<text x="386.40" y="500.80" font-size="3.2" font-weight="700" text-anchor="end" fill="#666">20</text>
<text x="388.00" y="514.40" font-size="3.4" font-weight="700" text-anchor="middle" fill="#555">10</text>
<text x="402.15" y="514.40" font-size="3.4" font-weight="700" text-anchor="middle" fill="#555">10</text>
<text x="416.30" y="514.40" font-size="3.4" font-weight="700" text-anchor="middle" fill="#555">10</text>
<text x="430.45" y="514.40" font-size="3.4" font-weight="700" text-anchor="middle" fill="#555">10</text>
<text x="444.60" y="514.40" font-size="3.4" font-weight="700" text-anchor="middle" fill="#555">10</text>
<line x1="177.0" y1="569.3" x2="233.7" y2="569.3" stroke="#9a9a9a" stroke-width="0.8" stroke-dasharray="1 1.4"/>
<path d="M194.00,569.00 L194.37,568.80 L194.75,568.55 L195.12,568.25 L195.49,567.89 L195.86,567.48 L196.24,567.00 L196.61,566.47 L196.98,565.88 L197.35,565.25 L197.72,564.60 L198.10,563.93 L198.47,563.27 L198.84,562.65 L199.22,562.07 L199.59,561.57 L199.96,561.16 L200.33,560.86 L200.71,560.69 L201.08,560.65 L201.45,560.75 L201.82,560.97 L202.19,561.31 L202.57,561.76 L202.94,562.30 L203.31,562.90 L203.69,563.55 L204.06,564.21 L204.43,564.87 L204.80,564.71 L205.18,563.21 L205.55,561.52 L205.92,559.64 L206.29,557.57 L206.66,555.31 L207.04,552.89 L207.41,550.32 L207.78,547.63 L208.16,544.86 L208.53,542.04 L208.90,539.23 L209.27,536.48 L209.65,533.83 L210.02,531.35 L210.39,529.09 L210.76,527.10 L211.14,525.43 L211.51,524.11 L211.88,523.20 L212.25,522.70 L212.62,522.62 L213.00,522.88 L213.37,523.45 L213.74,524.32 L214.12,525.47 L214.49,526.88 L214.86,528.53 L215.23,530.38 L215.61,532.41 L215.98,534.58 L216.35,536.86 L216.72,539.21 L217.09,541.60 L217.47,544.00 L217.84,546.38 L218.21,548.72 L218.59,550.98 L218.96,553.14 L219.33,555.20 L219.70,557.14 L220.08,558.95 L220.45,560.62 L220.82,562.15 L221.19,563.54 L221.56,564.80 L221.94,565.92 L222.31,566.91 L222.68,567.79 L223.06,568.55 L223.43,569.00 L223.80,569.00 L223.80,569.00 L194.00,569.00 Z" fill="#e4e4e4"/>
<path d="M194.00,569.00 L194.37,568.80 L194.75,568.55 L195.12,568.25 L195.49,567.89 L195.86,567.48 L196.24,567.00 L196.61,566.47 L196.98,565.88 L197.35,565.25 L197.72,564.60 L198.10,563.93 L198.47,563.27 L198.84,562.65 L199.22,562.07 L199.59,561.57 L199.96,561.16 L200.33,560.86 L200.71,560.69 L201.08,560.65 L201.45,560.75 L201.82,560.97 L202.19,561.31 L202.57,561.76 L202.94,562.30 L203.31,562.90 L203.69,563.55 L204.06,564.21 L204.43,564.87 L204.80,564.71 L205.18,563.21 L205.55,561.52 L205.92,559.64 L206.29,557.57 L206.66,555.31 L207.04,552.89 L207.41,550.32 L207.78,547.63 L208.16,544.86 L208.53,542.04 L208.90,539.23 L209.27,536.48 L209.65,533.83 L210.02,531.35 L210.39,529.09 L210.76,527.10 L211.14,525.43 L211.51,524.11 L211.88,523.20 L212.25,522.70 L212.62,522.62 L213.00,522.88 L213.37,523.45 L213.74,524.32 L214.12,525.47 L214.49,526.88 L214.86,528.53 L215.23,530.38 L215.61,532.41 L215.98,534.58 L216.35,536.86 L216.72,539.21 L217.09,541.60 L217.47,544.00 L217.84,546.38 L218.21,548.72 L218.59,550.98 L218.96,553.14 L219.33,555.20 L219.70,557.14 L220.08,558.95 L220.45,560.62 L220.82,562.15 L221.19,563.54 L221.56,564.80 L221.94,565.92 L222.31,566.91 L222.68,567.79 L223.06,568.55 L223.43,569.00 L223.80,569.00" fill="none" stroke="#b0b0b0" stroke-width="0.8" stroke-dasharray="1.2 1.2"/>
<path d="M213.50,569.00 L213.72,569.00 L213.95,569.00 L214.17,568.63 L214.40,568.11 L214.62,567.53 L214.84,566.89 L215.07,566.19 L215.29,565.43 L215.51,564.60 L215.74,563.70 L215.96,562.74 L216.19,561.70 L216.41,560.59 L216.63,559.42 L216.86,558.17 L217.08,556.85 L217.30,555.47 L217.53,554.02 L217.75,552.52 L217.97,550.96 L218.20,549.36 L218.42,547.71 L218.65,546.04 L218.87,544.34 L219.09,542.63 L219.32,540.92 L219.54,539.22 L219.77,537.53 L219.99,535.88 L220.21,534.28 L220.44,532.73 L220.66,531.25 L220.88,529.85 L221.11,528.55 L221.33,527.35 L221.56,526.27 L221.78,525.31 L222.00,524.49 L222.23,523.80 L222.45,523.27 L222.67,522.89 L222.90,522.67 L223.12,522.60 L223.34,522.73 L223.57,523.07 L223.79,523.63 L224.02,524.39 L224.24,525.34 L224.46,526.48 L224.69,527.78 L224.91,529.24 L225.13,530.83 L225.36,532.54 L225.58,534.34 L225.81,536.22 L226.03,538.16 L226.25,540.13 L226.48,542.13 L226.70,544.13 L226.93,546.11 L227.15,548.06 L227.37,549.96 L227.60,551.81 L227.82,553.59 L228.04,555.29 L228.27,556.90 L228.49,558.43 L228.72,559.86 L228.94,561.20 L229.16,562.44 L229.39,563.58 L229.61,564.63 L229.83,565.59 L230.06,566.46 L230.28,567.24 L230.50,567.94 L230.73,568.57 L230.95,569.00 L231.18,569.00 L231.40,569.00 L231.40,569.00 L213.50,569.00 Z" fill="#c4c4c4"/>
<path d="M213.50,569.00 L213.72,569.00 L213.95,569.00 L214.17,568.63 L214.40,568.11 L214.62,567.53 L214.84,566.89 L215.07,566.19 L215.29,565.43 L215.51,564.60 L215.74,563.70 L215.96,562.74 L216.19,561.70 L216.41,560.59 L216.63,559.42 L216.86,558.17 L217.08,556.85 L217.30,555.47 L217.53,554.02 L217.75,552.52 L217.97,550.96 L218.20,549.36 L218.42,547.71 L218.65,546.04 L218.87,544.34 L219.09,542.63 L219.32,540.92 L219.54,539.22 L219.77,537.53 L219.99,535.88 L220.21,534.28 L220.44,532.73 L220.66,531.25 L220.88,529.85 L221.11,528.55 L221.33,527.35 L221.56,526.27 L221.78,525.31 L222.00,524.49 L222.23,523.80 L222.45,523.27 L222.67,522.89 L222.90,522.67 L223.12,522.60 L223.34,522.73 L223.57,523.07 L223.79,523.63 L224.02,524.39 L224.24,525.34 L224.46,526.48 L224.69,527.78 L224.91,529.24 L225.13,530.83 L225.36,532.54 L225.58,534.34 L225.81,536.22 L226.03,538.16 L226.25,540.13 L226.48,542.13 L226.70,544.13 L226.93,546.11 L227.15,548.06 L227.37,549.96 L227.60,551.81 L227.82,553.59 L228.04,555.29 L228.27,556.90 L228.49,558.43 L228.72,559.86 L228.94,561.20 L229.16,562.44 L229.39,563.58 L229.61,564.63 L229.83,565.59 L230.06,566.46 L230.28,567.24 L230.50,567.94 L230.73,568.57 L230.95,569.00 L231.18,569.00 L231.40,569.00" fill="none" stroke="#333" stroke-width="0.9" stroke-dasharray="1.3 1.2"/>
<path d="M181.90,569.00 L182.11,569.00 L182.31,569.00 L182.52,568.69 L182.73,568.11 L182.94,567.46 L183.15,566.74 L183.35,565.94 L183.56,565.07 L183.77,564.11 L183.97,563.07 L184.18,561.94 L184.39,560.73 L184.60,559.42 L184.81,558.03 L185.01,556.56 L185.22,555.00 L185.43,553.37 L185.63,551.67 L185.84,549.91 L186.05,548.10 L186.26,546.25 L186.47,544.36 L186.67,542.46 L186.88,540.56 L187.09,538.68 L187.30,536.82 L187.50,535.01 L187.71,533.26 L187.92,531.60 L188.12,530.03 L188.33,528.57 L188.54,527.24 L188.75,526.06 L188.96,525.04 L189.16,524.18 L189.37,523.50 L189.58,523.01 L189.78,522.71 L189.99,522.60 L190.20,522.68 L190.41,522.94 L190.62,523.37 L190.82,523.98 L191.03,524.74 L191.24,525.66 L191.44,526.73 L191.65,527.93 L191.86,529.25 L192.07,530.69 L192.28,532.22 L192.48,533.83 L192.69,535.51 L192.90,537.24 L193.10,539.01 L193.31,540.81 L193.52,542.62 L193.73,544.42 L193.94,546.21 L194.14,547.97 L194.35,549.70 L194.56,551.38 L194.76,553.00 L194.97,554.57 L195.18,556.07 L195.39,557.50 L195.59,558.85 L195.80,560.12 L196.01,561.32 L196.22,562.44 L196.43,563.48 L196.63,564.44 L196.84,565.32 L197.05,566.13 L197.25,566.87 L197.46,567.55 L197.67,568.15 L197.88,568.70 L198.09,569.00 L198.29,569.00 L198.50,569.00" fill="none" stroke="#2a2a2a" stroke-width="1.05" stroke-dasharray="1.3 1.3"/>
<rect x="176.50" y="519.00" width="1.10" height="50.80" fill="#787878" />
<rect x="233.20" y="519.00" width="1.10" height="50.80" fill="#787878" />
<text x="175.40" y="521.90" font-size="3.2" font-weight="700" text-anchor="end" fill="#666">100</text>
<text x="175.40" y="531.80" font-size="3.2" font-weight="700" text-anchor="end" fill="#666">80</text>
<text x="175.40" y="541.70" font-size="3.2" font-weight="700" text-anchor="end" fill="#666">60</text>
<text x="175.40" y="551.60" font-size="3.2" font-weight="700" text-anchor="end" fill="#666">40</text>
<text x="175.40" y="561.50" font-size="3.2" font-weight="700" text-anchor="end" fill="#666">20</text>
<text x="177.00" y="574.50" font-size="3.4" font-weight="700" text-anchor="middle" fill="#555">10</text>
<text x="191.18" y="574.50" font-size="3.4" font-weight="700" text-anchor="middle" fill="#555">10</text>
<text x="205.35" y="574.50" font-size="3.4" font-weight="700" text-anchor="middle" fill="#555">10</text>
<text x="219.52" y="574.50" font-size="3.4" font-weight="700" text-anchor="middle" fill="#555">10</text>
<text x="233.70" y="574.50" font-size="3.4" font-weight="700" text-anchor="middle" fill="#555">10</text>
<line x1="247.3" y1="569.3" x2="303.8" y2="569.3" stroke="#9a9a9a" stroke-width="0.8" stroke-dasharray="1 1.4"/>
<path d="M250.00,569.00 L250.31,568.91 L250.61,568.80 L250.92,568.67 L251.22,568.53 L251.53,568.36 L251.84,568.18 L252.14,567.97 L252.45,567.75 L252.76,567.50 L253.06,567.24 L253.37,566.96 L253.68,566.66 L253.98,566.35 L254.29,566.03 L254.59,565.72 L254.90,565.40 L255.21,565.08 L255.51,564.78 L255.82,564.50 L256.12,564.24 L256.43,564.01 L256.74,563.81 L257.04,563.65 L257.35,563.54 L257.66,563.46 L257.96,563.43 L258.27,563.44 L258.57,563.48 L258.88,563.55 L259.19,563.65 L259.49,563.78 L259.80,563.92 L260.11,564.10 L260.41,564.29 L260.72,564.50 L261.02,564.72 L261.33,564.96 L261.64,565.20 L261.94,565.45 L262.25,565.71 L262.56,565.96 L262.86,566.22 L263.17,566.47 L263.48,564.96 L263.78,563.16 L264.09,561.09 L264.39,558.73 L264.70,556.10 L265.01,553.21 L265.31,550.11 L265.62,546.83 L265.93,543.45 L266.23,540.04 L266.54,536.69 L266.84,533.49 L267.15,530.55 L267.46,527.95 L267.76,525.79 L268.07,524.15 L268.38,523.07 L268.68,522.62 L268.99,522.87 L269.29,524.00 L269.60,525.95 L269.91,528.61 L270.21,531.87 L270.52,535.55 L270.82,539.50 L271.13,543.56 L271.44,547.57 L271.74,551.41 L272.05,554.98 L272.36,558.21 L272.66,561.05 L272.97,563.49 L273.27,565.55 L273.58,567.23 L273.89,568.58 L274.19,569.00 L274.50,569.00 L274.50,569.00 L250.00,569.00 Z" fill="#e4e4e4"/>
<path d="M250.00,569.00 L250.31,568.91 L250.61,568.80 L250.92,568.67 L251.22,568.53 L251.53,568.36 L251.84,568.18 L252.14,567.97 L252.45,567.75 L252.76,567.50 L253.06,567.24 L253.37,566.96 L253.68,566.66 L253.98,566.35 L254.29,566.03 L254.59,565.72 L254.90,565.40 L255.21,565.08 L255.51,564.78 L255.82,564.50 L256.12,564.24 L256.43,564.01 L256.74,563.81 L257.04,563.65 L257.35,563.54 L257.66,563.46 L257.96,563.43 L258.27,563.44 L258.57,563.48 L258.88,563.55 L259.19,563.65 L259.49,563.78 L259.80,563.92 L260.11,564.10 L260.41,564.29 L260.72,564.50 L261.02,564.72 L261.33,564.96 L261.64,565.20 L261.94,565.45 L262.25,565.71 L262.56,565.96 L262.86,566.22 L263.17,566.47 L263.48,564.96 L263.78,563.16 L264.09,561.09 L264.39,558.73 L264.70,556.10 L265.01,553.21 L265.31,550.11 L265.62,546.83 L265.93,543.45 L266.23,540.04 L266.54,536.69 L266.84,533.49 L267.15,530.55 L267.46,527.95 L267.76,525.79 L268.07,524.15 L268.38,523.07 L268.68,522.62 L268.99,522.87 L269.29,524.00 L269.60,525.95 L269.91,528.61 L270.21,531.87 L270.52,535.55 L270.82,539.50 L271.13,543.56 L271.44,547.57 L271.74,551.41 L272.05,554.98 L272.36,558.21 L272.66,561.05 L272.97,563.49 L273.27,565.55 L273.58,567.23 L273.89,568.58 L274.19,569.00 L274.50,569.00" fill="none" stroke="#b0b0b0" stroke-width="0.8" stroke-dasharray="1.2 1.2"/>
<path d="M270.00,569.00 L270.27,569.00 L270.54,568.95 L270.81,568.57 L271.07,568.15 L271.34,567.70 L271.61,567.22 L271.88,566.70 L272.15,566.14 L272.42,565.55 L272.69,564.91 L272.96,564.23 L273.23,563.51 L273.49,562.74 L273.76,561.94 L274.03,561.08 L274.30,560.19 L274.57,559.25 L274.84,558.26 L275.11,557.24 L275.38,556.17 L275.64,555.06 L275.91,553.92 L276.18,552.74 L276.45,551.52 L276.72,550.28 L276.99,549.00 L277.26,547.71 L277.52,546.40 L277.79,545.07 L278.06,543.73 L278.33,542.38 L278.60,541.03 L278.87,539.69 L279.14,538.36 L279.41,537.05 L279.68,535.75 L279.94,534.49 L280.21,533.26 L280.48,532.07 L280.75,530.93 L281.02,529.84 L281.29,528.80 L281.56,527.83 L281.82,526.93 L282.09,526.11 L282.36,525.36 L282.63,524.69 L282.90,524.11 L283.17,523.63 L283.44,523.23 L283.71,522.93 L283.98,522.72 L284.24,522.62 L284.51,522.64 L284.78,523.04 L285.05,523.87 L285.32,525.10 L285.59,526.70 L285.86,528.63 L286.12,530.86 L286.39,533.31 L286.66,535.94 L286.93,538.70 L287.20,541.52 L287.47,544.35 L287.74,547.15 L288.01,549.87 L288.27,552.48 L288.54,554.94 L288.81,557.23 L289.08,559.35 L289.35,561.27 L289.62,562.99 L289.89,564.52 L290.16,565.87 L290.43,567.04 L290.69,568.04 L290.96,568.89 L291.23,569.00 L291.50,569.00 L291.50,569.00 L270.00,569.00 Z" fill="#c4c4c4"/>
<path d="M270.00,569.00 L270.27,569.00 L270.54,568.95 L270.81,568.57 L271.07,568.15 L271.34,567.70 L271.61,567.22 L271.88,566.70 L272.15,566.14 L272.42,565.55 L272.69,564.91 L272.96,564.23 L273.23,563.51 L273.49,562.74 L273.76,561.94 L274.03,561.08 L274.30,560.19 L274.57,559.25 L274.84,558.26 L275.11,557.24 L275.38,556.17 L275.64,555.06 L275.91,553.92 L276.18,552.74 L276.45,551.52 L276.72,550.28 L276.99,549.00 L277.26,547.71 L277.52,546.40 L277.79,545.07 L278.06,543.73 L278.33,542.38 L278.60,541.03 L278.87,539.69 L279.14,538.36 L279.41,537.05 L279.68,535.75 L279.94,534.49 L280.21,533.26 L280.48,532.07 L280.75,530.93 L281.02,529.84 L281.29,528.80 L281.56,527.83 L281.82,526.93 L282.09,526.11 L282.36,525.36 L282.63,524.69 L282.90,524.11 L283.17,523.63 L283.44,523.23 L283.71,522.93 L283.98,522.72 L284.24,522.62 L284.51,522.64 L284.78,523.04 L285.05,523.87 L285.32,525.10 L285.59,526.70 L285.86,528.63 L286.12,530.86 L286.39,533.31 L286.66,535.94 L286.93,538.70 L287.20,541.52 L287.47,544.35 L287.74,547.15 L288.01,549.87 L288.27,552.48 L288.54,554.94 L288.81,557.23 L289.08,559.35 L289.35,561.27 L289.62,562.99 L289.89,564.52 L290.16,565.87 L290.43,567.04 L290.69,568.04 L290.96,568.89 L291.23,569.00 L291.50,569.00" fill="none" stroke="#333" stroke-width="0.9" stroke-dasharray="1.3 1.2"/>
<path d="M251.00,569.00 L251.21,569.00 L251.43,569.00 L251.64,568.71 L251.85,568.22 L252.06,567.68 L252.28,567.09 L252.49,566.44 L252.70,565.74 L252.91,564.98 L253.12,564.16 L253.34,563.28 L253.55,562.34 L253.76,561.33 L253.97,560.25 L254.19,559.12 L254.40,557.92 L254.61,556.65 L254.82,555.33 L255.04,553.96 L255.25,552.53 L255.46,551.05 L255.68,549.53 L255.89,547.97 L256.10,546.39 L256.31,544.78 L256.52,543.16 L256.74,541.53 L256.95,539.91 L257.16,538.30 L257.38,536.72 L257.59,535.17 L257.80,533.66 L258.01,532.22 L258.23,530.83 L258.44,529.53 L258.65,528.31 L258.86,527.19 L259.07,526.18 L259.29,525.27 L259.50,524.49 L259.71,523.84 L259.93,523.32 L260.14,522.94 L260.35,522.70 L260.56,522.60 L260.77,522.68 L260.99,523.01 L261.20,523.59 L261.41,524.40 L261.62,525.43 L261.84,526.67 L262.05,528.11 L262.26,529.71 L262.48,531.46 L262.69,533.34 L262.90,535.32 L263.11,537.37 L263.32,539.48 L263.54,541.62 L263.75,543.77 L263.96,545.90 L264.18,547.99 L264.39,550.04 L264.60,552.01 L264.81,553.91 L265.02,555.72 L265.24,557.42 L265.45,559.03 L265.66,560.52 L265.88,561.90 L266.09,563.17 L266.30,564.33 L266.51,565.38 L266.73,566.33 L266.94,567.18 L267.15,567.94 L267.36,568.61 L267.57,569.00 L267.79,569.00 L268.00,569.00" fill="none" stroke="#2a2a2a" stroke-width="1.05" stroke-dasharray="1.3 1.3"/>
<text x="245.70" y="521.90" font-size="3.2" font-weight="700" text-anchor="end" fill="#666">100</text>
<text x="245.70" y="531.80" font-size="3.2" font-weight="700" text-anchor="end" fill="#666">80</text>
<text x="245.70" y="541.70" font-size="3.2" font-weight="700" text-anchor="end" fill="#666">60</text>
<text x="245.70" y="551.60" font-size="3.2" font-weight="700" text-anchor="end" fill="#666">40</text>
<text x="245.70" y="561.50" font-size="3.2" font-weight="700" text-anchor="end" fill="#666">20</text>
<text x="247.30" y="574.50" font-size="3.4" font-weight="700" text-anchor="middle" fill="#555">10</text>
<text x="261.43" y="574.50" font-size="3.4" font-weight="700" text-anchor="middle" fill="#555">10</text>
<text x="275.55" y="574.50" font-size="3.4" font-weight="700" text-anchor="middle" fill="#555">10</text>
<text x="289.68" y="574.50" font-size="3.4" font-weight="700" text-anchor="middle" fill="#555">10</text>
<text x="303.80" y="574.50" font-size="3.4" font-weight="700" text-anchor="middle" fill="#555">10</text>
<line x1="317.8" y1="569.3" x2="374.2" y2="569.3" stroke="#9a9a9a" stroke-width="0.8" stroke-dasharray="1 1.4"/>
<path d="M321.00,569.00 L321.27,569.00 L321.54,568.93 L321.81,568.41 L322.07,567.83 L322.34,567.19 L322.61,566.49 L322.88,565.71 L323.15,564.87 L323.42,563.95 L323.69,562.95 L323.96,561.87 L324.23,560.72 L324.49,559.49 L324.76,558.18 L325.03,556.79 L325.30,555.33 L325.57,553.81 L325.84,552.22 L326.11,550.57 L326.38,548.87 L326.64,547.13 L326.91,545.36 L327.18,543.57 L327.45,541.77 L327.72,539.98 L327.99,538.20 L328.26,536.45 L328.52,534.74 L328.79,533.10 L329.06,531.53 L329.33,530.04 L329.60,528.66 L329.87,527.39 L330.14,526.25 L330.41,525.25 L330.68,524.40 L330.94,523.70 L331.21,523.17 L331.48,522.81 L331.75,522.63 L332.02,522.62 L332.29,522.79 L332.56,523.15 L332.82,523.70 L333.09,524.41 L333.36,525.29 L333.63,526.33 L333.90,527.52 L334.17,528.84 L334.44,530.28 L334.71,531.82 L334.98,533.46 L335.24,535.17 L335.51,536.94 L335.78,538.75 L336.05,540.59 L336.32,542.44 L336.59,544.29 L336.86,546.13 L337.12,547.94 L337.39,549.71 L337.66,551.43 L337.93,553.10 L338.20,554.70 L338.47,556.23 L338.74,557.69 L339.01,559.06 L339.27,560.36 L339.54,561.57 L339.81,562.70 L340.08,563.74 L340.35,564.70 L340.62,565.59 L340.89,566.40 L341.16,567.13 L341.43,567.79 L341.69,568.39 L341.96,568.93 L342.23,569.00 L342.50,569.00 L342.50,569.00 L321.00,569.00 Z" fill="#e4e4e4"/>
<path d="M321.00,569.00 L321.27,569.00 L321.54,568.93 L321.81,568.41 L322.07,567.83 L322.34,567.19 L322.61,566.49 L322.88,565.71 L323.15,564.87 L323.42,563.95 L323.69,562.95 L323.96,561.87 L324.23,560.72 L324.49,559.49 L324.76,558.18 L325.03,556.79 L325.30,555.33 L325.57,553.81 L325.84,552.22 L326.11,550.57 L326.38,548.87 L326.64,547.13 L326.91,545.36 L327.18,543.57 L327.45,541.77 L327.72,539.98 L327.99,538.20 L328.26,536.45 L328.52,534.74 L328.79,533.10 L329.06,531.53 L329.33,530.04 L329.60,528.66 L329.87,527.39 L330.14,526.25 L330.41,525.25 L330.68,524.40 L330.94,523.70 L331.21,523.17 L331.48,522.81 L331.75,522.63 L332.02,522.62 L332.29,522.79 L332.56,523.15 L332.82,523.70 L333.09,524.41 L333.36,525.29 L333.63,526.33 L333.90,527.52 L334.17,528.84 L334.44,530.28 L334.71,531.82 L334.98,533.46 L335.24,535.17 L335.51,536.94 L335.78,538.75 L336.05,540.59 L336.32,542.44 L336.59,544.29 L336.86,546.13 L337.12,547.94 L337.39,549.71 L337.66,551.43 L337.93,553.10 L338.20,554.70 L338.47,556.23 L338.74,557.69 L339.01,559.06 L339.27,560.36 L339.54,561.57 L339.81,562.70 L340.08,563.74 L340.35,564.70 L340.62,565.59 L340.89,566.40 L341.16,567.13 L341.43,567.79 L341.69,568.39 L341.96,568.93 L342.23,569.00 L342.50,569.00" fill="none" stroke="#b0b0b0" stroke-width="0.8" stroke-dasharray="1.2 1.2"/>
<path d="M340.00,569.00 L340.28,568.86 L340.56,568.68 L340.84,568.46 L341.12,568.20 L341.41,567.90 L341.69,567.55 L341.97,567.16 L342.25,566.73 L342.53,566.28 L342.81,565.81 L343.09,565.35 L343.38,564.89 L343.66,564.47 L343.94,564.11 L344.22,563.81 L344.50,563.59 L344.78,563.46 L345.06,563.43 L345.34,563.51 L345.62,563.67 L345.91,563.93 L346.19,564.26 L346.47,564.66 L346.75,565.09 L347.03,565.55 L347.31,566.02 L347.59,565.88 L347.88,564.70 L348.16,563.37 L348.44,561.90 L348.72,560.27 L349.00,558.49 L349.28,556.56 L349.56,554.49 L349.84,552.29 L350.12,549.98 L350.41,547.58 L350.69,545.11 L350.97,542.61 L351.25,540.10 L351.53,537.62 L351.81,535.21 L352.09,532.91 L352.38,530.76 L352.66,528.78 L352.94,527.04 L353.22,525.54 L353.50,524.33 L353.78,523.42 L354.06,522.85 L354.34,522.61 L354.62,522.72 L354.91,523.18 L355.19,524.00 L355.47,525.15 L355.75,526.60 L356.03,528.33 L356.31,530.30 L356.59,532.48 L356.88,534.82 L357.16,537.28 L357.44,539.81 L357.72,542.38 L358.00,544.96 L358.28,547.49 L358.56,549.96 L358.84,552.33 L359.12,554.58 L359.41,556.69 L359.69,558.66 L359.97,560.47 L360.25,562.13 L360.53,563.62 L360.81,564.95 L361.09,566.13 L361.38,567.16 L361.66,568.07 L361.94,568.84 L362.22,569.00 L362.50,569.00 L362.50,569.00 L340.00,569.00 Z" fill="#c4c4c4"/>
<path d="M340.00,569.00 L340.28,568.86 L340.56,568.68 L340.84,568.46 L341.12,568.20 L341.41,567.90 L341.69,567.55 L341.97,567.16 L342.25,566.73 L342.53,566.28 L342.81,565.81 L343.09,565.35 L343.38,564.89 L343.66,564.47 L343.94,564.11 L344.22,563.81 L344.50,563.59 L344.78,563.46 L345.06,563.43 L345.34,563.51 L345.62,563.67 L345.91,563.93 L346.19,564.26 L346.47,564.66 L346.75,565.09 L347.03,565.55 L347.31,566.02 L347.59,565.88 L347.88,564.70 L348.16,563.37 L348.44,561.90 L348.72,560.27 L349.00,558.49 L349.28,556.56 L349.56,554.49 L349.84,552.29 L350.12,549.98 L350.41,547.58 L350.69,545.11 L350.97,542.61 L351.25,540.10 L351.53,537.62 L351.81,535.21 L352.09,532.91 L352.38,530.76 L352.66,528.78 L352.94,527.04 L353.22,525.54 L353.50,524.33 L353.78,523.42 L354.06,522.85 L354.34,522.61 L354.62,522.72 L354.91,523.18 L355.19,524.00 L355.47,525.15 L355.75,526.60 L356.03,528.33 L356.31,530.30 L356.59,532.48 L356.88,534.82 L357.16,537.28 L357.44,539.81 L357.72,542.38 L358.00,544.96 L358.28,547.49 L358.56,549.96 L358.84,552.33 L359.12,554.58 L359.41,556.69 L359.69,558.66 L359.97,560.47 L360.25,562.13 L360.53,563.62 L360.81,564.95 L361.09,566.13 L361.38,567.16 L361.66,568.07 L361.94,568.84 L362.22,569.00 L362.50,569.00" fill="none" stroke="#333" stroke-width="0.9" stroke-dasharray="1.3 1.2"/>
<path d="M322.00,569.00 L322.24,569.00 L322.49,569.00 L322.73,568.51 L322.98,567.94 L323.22,567.31 L323.46,566.62 L323.71,565.85 L323.95,565.02 L324.19,564.10 L324.44,563.12 L324.68,562.05 L324.93,560.90 L325.17,559.68 L325.41,558.38 L325.66,557.00 L325.90,555.54 L326.14,554.02 L326.39,552.43 L326.63,550.79 L326.88,549.09 L327.12,547.35 L327.36,545.58 L327.61,543.78 L327.85,541.98 L328.09,540.18 L328.34,538.39 L328.58,536.63 L328.82,534.91 L329.07,533.26 L329.31,531.67 L329.56,530.17 L329.80,528.78 L330.04,527.49 L330.29,526.34 L330.53,525.32 L330.77,524.46 L331.02,523.75 L331.26,523.20 L331.51,522.83 L331.75,522.63 L331.99,522.61 L332.24,522.78 L332.48,523.14 L332.73,523.67 L332.97,524.39 L333.21,525.27 L333.46,526.32 L333.70,527.51 L333.94,528.84 L334.19,530.29 L334.43,531.84 L334.68,533.49 L334.92,535.21 L335.16,537.00 L335.41,538.82 L335.65,540.67 L335.89,542.54 L336.14,544.40 L336.38,546.25 L336.62,548.07 L336.87,549.85 L337.11,551.58 L337.36,553.25 L337.60,554.85 L337.84,556.39 L338.09,557.84 L338.33,559.22 L338.57,560.51 L338.82,561.72 L339.06,562.84 L339.31,563.88 L339.55,564.84 L339.79,565.72 L340.04,566.52 L340.28,567.25 L340.52,567.91 L340.77,568.50 L341.01,569.00 L341.26,569.00 L341.50,569.00" fill="none" stroke="#2a2a2a" stroke-width="1.05" stroke-dasharray="1.3 1.3"/>
<rect x="373.70" y="519.00" width="1.10" height="50.80" fill="#787878" />
<text x="316.20" y="521.90" font-size="3.2" font-weight="700" text-anchor="end" fill="#666">100</text>
<text x="316.20" y="531.80" font-size="3.2" font-weight="700" text-anchor="end" fill="#666">80</text>
<text x="316.20" y="541.70" font-size="3.2" font-weight="700" text-anchor="end" fill="#666">60</text>
<text x="316.20" y="551.60" font-size="3.2" font-weight="700" text-anchor="end" fill="#666">40</text>
<text x="316.20" y="561.50" font-size="3.2" font-weight="700" text-anchor="end" fill="#666">20</text>
<text x="317.80" y="574.50" font-size="3.4" font-weight="700" text-anchor="middle" fill="#555">10</text>
<text x="331.90" y="574.50" font-size="3.4" font-weight="700" text-anchor="middle" fill="#555">10</text>
<text x="346.00" y="574.50" font-size="3.4" font-weight="700" text-anchor="middle" fill="#555">10</text>
<text x="360.10" y="574.50" font-size="3.4" font-weight="700" text-anchor="middle" fill="#555">10</text>
<text x="374.20" y="574.50" font-size="3.4" font-weight="700" text-anchor="middle" fill="#555">10</text>
<line x1="388.0" y1="569.3" x2="444.6" y2="569.3" stroke="#9a9a9a" stroke-width="0.8" stroke-dasharray="1 1.4"/>
<path d="M396.50,569.00 L396.73,569.00 L396.95,569.00 L397.18,568.55 L397.41,567.93 L397.64,567.23 L397.87,566.45 L398.09,565.59 L398.32,564.65 L398.55,563.61 L398.77,562.48 L399.00,561.25 L399.23,559.93 L399.46,558.51 L399.69,557.01 L399.91,555.41 L400.14,553.73 L400.37,551.97 L400.59,550.15 L400.82,548.26 L401.05,546.34 L401.28,544.38 L401.50,542.40 L401.73,540.42 L401.96,538.46 L402.19,536.53 L402.42,534.65 L402.64,532.85 L402.87,531.14 L403.10,529.54 L403.32,528.07 L403.55,526.74 L403.78,525.58 L404.01,524.59 L404.24,523.79 L404.46,523.19 L404.69,522.80 L404.92,522.61 L405.14,522.63 L405.37,522.82 L405.60,523.16 L405.83,523.66 L406.06,524.31 L406.28,525.10 L406.51,526.04 L406.74,527.10 L406.96,528.28 L407.19,529.57 L407.42,530.95 L407.65,532.42 L407.88,533.97 L408.10,535.57 L408.33,537.23 L408.56,538.92 L408.78,540.63 L409.01,542.35 L409.24,544.07 L409.47,545.78 L409.69,547.47 L409.92,549.12 L410.15,550.74 L410.38,552.31 L410.61,553.83 L410.83,555.30 L411.06,556.69 L411.29,558.03 L411.51,559.29 L411.74,560.48 L411.97,561.60 L412.20,562.65 L412.43,563.63 L412.65,564.53 L412.88,565.37 L413.11,566.14 L413.33,566.85 L413.56,567.49 L413.79,568.08 L414.02,568.61 L414.25,569.00 L414.47,569.00 L414.70,569.00 L414.70,569.00 L396.50,569.00 Z" fill="#e4e4e4"/>
<path d="M396.50,569.00 L396.73,569.00 L396.95,569.00 L397.18,568.55 L397.41,567.93 L397.64,567.23 L397.87,566.45 L398.09,565.59 L398.32,564.65 L398.55,563.61 L398.77,562.48 L399.00,561.25 L399.23,559.93 L399.46,558.51 L399.69,557.01 L399.91,555.41 L400.14,553.73 L400.37,551.97 L400.59,550.15 L400.82,548.26 L401.05,546.34 L401.28,544.38 L401.50,542.40 L401.73,540.42 L401.96,538.46 L402.19,536.53 L402.42,534.65 L402.64,532.85 L402.87,531.14 L403.10,529.54 L403.32,528.07 L403.55,526.74 L403.78,525.58 L404.01,524.59 L404.24,523.79 L404.46,523.19 L404.69,522.80 L404.92,522.61 L405.14,522.63 L405.37,522.82 L405.60,523.16 L405.83,523.66 L406.06,524.31 L406.28,525.10 L406.51,526.04 L406.74,527.10 L406.96,528.28 L407.19,529.57 L407.42,530.95 L407.65,532.42 L407.88,533.97 L408.10,535.57 L408.33,537.23 L408.56,538.92 L408.78,540.63 L409.01,542.35 L409.24,544.07 L409.47,545.78 L409.69,547.47 L409.92,549.12 L410.15,550.74 L410.38,552.31 L410.61,553.83 L410.83,555.30 L411.06,556.69 L411.29,558.03 L411.51,559.29 L411.74,560.48 L411.97,561.60 L412.20,562.65 L412.43,563.63 L412.65,564.53 L412.88,565.37 L413.11,566.14 L413.33,566.85 L413.56,567.49 L413.79,568.08 L414.02,568.61 L414.25,569.00 L414.47,569.00 L414.70,569.00" fill="none" stroke="#b0b0b0" stroke-width="0.8" stroke-dasharray="1.2 1.2"/>
<path d="M395.00,569.00 L395.52,568.70 L396.05,568.30 L396.57,567.79 L397.10,567.17 L397.62,566.44 L398.15,565.61 L398.68,564.69 L399.20,563.72 L399.73,562.75 L400.25,561.84 L400.77,561.02 L401.30,560.37 L401.82,559.93 L402.35,559.73 L402.88,559.79 L403.40,560.09 L403.93,560.63 L404.45,561.36 L404.98,562.22 L405.50,563.17 L406.02,564.14 L406.55,565.09 L407.07,565.98 L407.60,566.77 L408.12,567.45 L408.65,568.02 L409.18,568.48 L409.70,568.84 L410.23,568.96 L410.75,568.08 L411.27,567.03 L411.80,565.80 L412.32,564.37 L412.85,562.74 L413.38,560.90 L413.90,558.84 L414.43,556.57 L414.95,554.11 L415.48,551.47 L416.00,548.68 L416.52,545.79 L417.05,542.83 L417.57,539.86 L418.10,536.94 L418.62,534.13 L419.15,531.50 L419.68,529.10 L420.20,527.01 L420.73,525.28 L421.25,523.95 L421.77,523.06 L422.30,522.63 L422.82,522.76 L423.35,523.72 L423.88,525.47 L424.40,527.93 L424.93,530.98 L425.45,534.49 L425.98,538.30 L426.50,542.25 L427.02,546.21 L427.55,550.04 L428.07,553.64 L428.60,556.93 L429.12,559.87 L429.65,562.44 L430.18,564.62 L430.70,565.58 L431.23,564.83 L431.75,564.41 L432.27,564.40 L432.80,564.69 L433.32,565.21 L433.85,565.88 L434.38,566.60 L434.90,567.30 L435.43,567.91 L435.95,568.40 L436.48,568.75 L437.00,569.00 L437.00,569.00 L395.00,569.00 Z" fill="#c4c4c4"/>
<path d="M395.00,569.00 L395.52,568.70 L396.05,568.30 L396.57,567.79 L397.10,567.17 L397.62,566.44 L398.15,565.61 L398.68,564.69 L399.20,563.72 L399.73,562.75 L400.25,561.84 L400.77,561.02 L401.30,560.37 L401.82,559.93 L402.35,559.73 L402.88,559.79 L403.40,560.09 L403.93,560.63 L404.45,561.36 L404.98,562.22 L405.50,563.17 L406.02,564.14 L406.55,565.09 L407.07,565.98 L407.60,566.77 L408.12,567.45 L408.65,568.02 L409.18,568.48 L409.70,568.84 L410.23,568.96 L410.75,568.08 L411.27,567.03 L411.80,565.80 L412.32,564.37 L412.85,562.74 L413.38,560.90 L413.90,558.84 L414.43,556.57 L414.95,554.11 L415.48,551.47 L416.00,548.68 L416.52,545.79 L417.05,542.83 L417.57,539.86 L418.10,536.94 L418.62,534.13 L419.15,531.50 L419.68,529.10 L420.20,527.01 L420.73,525.28 L421.25,523.95 L421.77,523.06 L422.30,522.63 L422.82,522.76 L423.35,523.72 L423.88,525.47 L424.40,527.93 L424.93,530.98 L425.45,534.49 L425.98,538.30 L426.50,542.25 L427.02,546.21 L427.55,550.04 L428.07,553.64 L428.60,556.93 L429.12,559.87 L429.65,562.44 L430.18,564.62 L430.70,565.58 L431.23,564.83 L431.75,564.41 L432.27,564.40 L432.80,564.69 L433.32,565.21 L433.85,565.88 L434.38,566.60 L434.90,567.30 L435.43,567.91 L435.95,568.40 L436.48,568.75 L437.00,569.00" fill="none" stroke="#333" stroke-width="0.9" stroke-dasharray="1.3 1.2"/>
<path d="M393.00,569.00 L393.21,569.00 L393.41,569.00 L393.62,568.70 L393.82,568.14 L394.03,567.51 L394.24,566.82 L394.44,566.05 L394.65,565.21 L394.86,564.29 L395.06,563.29 L395.27,562.21 L395.48,561.05 L395.68,559.80 L395.89,558.47 L396.09,557.06 L396.30,555.57 L396.51,554.01 L396.71,552.38 L396.92,550.68 L397.12,548.94 L397.33,547.15 L397.54,545.33 L397.74,543.48 L397.95,541.63 L398.16,539.78 L398.36,537.95 L398.57,536.15 L398.77,534.41 L398.98,532.73 L399.19,531.13 L399.39,529.63 L399.60,528.24 L399.81,526.98 L400.01,525.86 L400.22,524.89 L400.43,524.07 L400.63,523.44 L400.84,522.97 L401.04,522.69 L401.25,522.60 L401.46,522.69 L401.66,522.97 L401.87,523.44 L402.07,524.07 L402.28,524.89 L402.49,525.86 L402.69,526.98 L402.90,528.24 L403.11,529.63 L403.31,531.13 L403.52,532.73 L403.73,534.41 L403.93,536.15 L404.14,537.95 L404.34,539.78 L404.55,541.63 L404.76,543.48 L404.96,545.33 L405.17,547.15 L405.38,548.94 L405.58,550.68 L405.79,552.38 L405.99,554.01 L406.20,555.57 L406.41,557.06 L406.61,558.47 L406.82,559.80 L407.02,561.05 L407.23,562.21 L407.44,563.29 L407.64,564.29 L407.85,565.21 L408.06,566.05 L408.26,566.82 L408.47,567.51 L408.68,568.14 L408.88,568.70 L409.09,569.00 L409.29,569.00 L409.50,569.00" fill="none" stroke="#2a2a2a" stroke-width="1.05" stroke-dasharray="1.3 1.3"/>
<rect x="387.50" y="519.00" width="1.10" height="50.80" fill="#787878" />
<rect x="444.10" y="519.00" width="1.10" height="50.80" fill="#787878" />
<text x="386.40" y="521.90" font-size="3.2" font-weight="700" text-anchor="end" fill="#666">100</text>
<text x="386.40" y="531.80" font-size="3.2" font-weight="700" text-anchor="end" fill="#666">80</text>
<text x="386.40" y="541.70" font-size="3.2" font-weight="700" text-anchor="end" fill="#666">60</text>
<text x="386.40" y="551.60" font-size="3.2" font-weight="700" text-anchor="end" fill="#666">40</text>
<text x="386.40" y="561.50" font-size="3.2" font-weight="700" text-anchor="end" fill="#666">20</text>
<text x="388.00" y="574.50" font-size="3.4" font-weight="700" text-anchor="middle" fill="#555">10</text>
<text x="402.15" y="574.50" font-size="3.4" font-weight="700" text-anchor="middle" fill="#555">10</text>
<text x="416.30" y="574.50" font-size="3.4" font-weight="700" text-anchor="middle" fill="#555">10</text>
<text x="430.45" y="574.50" font-size="3.4" font-weight="700" text-anchor="middle" fill="#555">10</text>
<text x="444.60" y="574.50" font-size="3.4" font-weight="700" text-anchor="middle" fill="#555">10</text>
<line x1="177.0" y1="630.3" x2="233.7" y2="630.3" stroke="#9a9a9a" stroke-width="0.8" stroke-dasharray="1 1.4"/>
<path d="M201.90,630.00 L202.16,630.00 L202.43,629.95 L202.69,629.45 L202.96,628.90 L203.22,628.29 L203.48,627.63 L203.75,626.90 L204.01,626.10 L204.27,625.24 L204.54,624.30 L204.80,623.30 L205.06,622.22 L205.33,621.08 L205.59,619.86 L205.86,618.56 L206.12,617.20 L206.38,615.78 L206.65,614.29 L206.91,612.75 L207.18,611.15 L207.44,609.51 L207.70,607.83 L207.97,606.12 L208.23,604.40 L208.49,602.66 L208.76,600.93 L209.02,599.21 L209.28,597.52 L209.55,595.86 L209.81,594.25 L210.08,592.71 L210.34,591.25 L210.60,589.87 L210.87,588.59 L211.13,587.42 L211.40,586.38 L211.66,585.47 L211.92,584.69 L212.19,584.06 L212.45,583.59 L212.71,583.27 L212.98,583.12 L213.24,583.13 L213.50,583.35 L213.77,583.77 L214.03,584.40 L214.30,585.22 L214.56,586.22 L214.82,587.40 L215.09,588.73 L215.35,590.21 L215.62,591.81 L215.88,593.52 L216.14,595.32 L216.41,597.19 L216.67,599.11 L216.93,601.07 L217.20,603.04 L217.46,605.02 L217.72,606.97 L217.99,608.90 L218.25,610.78 L218.52,612.61 L218.78,614.37 L219.04,616.05 L219.31,617.65 L219.57,619.17 L219.84,620.60 L220.10,621.93 L220.36,623.17 L220.63,624.32 L220.89,625.38 L221.15,626.34 L221.42,627.22 L221.68,628.01 L221.94,628.73 L222.21,629.37 L222.47,629.94 L222.74,630.00 L223.00,630.00 L223.00,630.00 L201.90,630.00 Z" fill="#e4e4e4"/>
<path d="M201.90,630.00 L202.16,630.00 L202.43,629.95 L202.69,629.45 L202.96,628.90 L203.22,628.29 L203.48,627.63 L203.75,626.90 L204.01,626.10 L204.27,625.24 L204.54,624.30 L204.80,623.30 L205.06,622.22 L205.33,621.08 L205.59,619.86 L205.86,618.56 L206.12,617.20 L206.38,615.78 L206.65,614.29 L206.91,612.75 L207.18,611.15 L207.44,609.51 L207.70,607.83 L207.97,606.12 L208.23,604.40 L208.49,602.66 L208.76,600.93 L209.02,599.21 L209.28,597.52 L209.55,595.86 L209.81,594.25 L210.08,592.71 L210.34,591.25 L210.60,589.87 L210.87,588.59 L211.13,587.42 L211.40,586.38 L211.66,585.47 L211.92,584.69 L212.19,584.06 L212.45,583.59 L212.71,583.27 L212.98,583.12 L213.24,583.13 L213.50,583.35 L213.77,583.77 L214.03,584.40 L214.30,585.22 L214.56,586.22 L214.82,587.40 L215.09,588.73 L215.35,590.21 L215.62,591.81 L215.88,593.52 L216.14,595.32 L216.41,597.19 L216.67,599.11 L216.93,601.07 L217.20,603.04 L217.46,605.02 L217.72,606.97 L217.99,608.90 L218.25,610.78 L218.52,612.61 L218.78,614.37 L219.04,616.05 L219.31,617.65 L219.57,619.17 L219.84,620.60 L220.10,621.93 L220.36,623.17 L220.63,624.32 L220.89,625.38 L221.15,626.34 L221.42,627.22 L221.68,628.01 L221.94,628.73 L222.21,629.37 L222.47,629.94 L222.74,630.00 L223.00,630.00" fill="none" stroke="#b0b0b0" stroke-width="0.8" stroke-dasharray="1.2 1.2"/>
<path d="M211.50,630.00 L211.77,630.00 L212.05,629.90 L212.32,629.29 L212.59,628.60 L212.87,627.83 L213.14,626.97 L213.42,626.01 L213.69,624.96 L213.96,623.80 L214.24,622.54 L214.51,621.18 L214.78,619.72 L215.06,618.15 L215.33,616.48 L215.61,614.72 L215.88,612.88 L216.15,610.97 L216.43,608.98 L216.70,606.95 L216.97,604.89 L217.25,602.81 L217.52,600.73 L217.80,598.67 L218.07,596.65 L218.34,594.70 L218.62,592.84 L218.89,591.08 L219.16,589.45 L219.44,587.97 L219.71,586.66 L219.99,585.53 L220.26,584.61 L220.53,583.89 L220.81,583.40 L221.08,583.14 L221.35,583.12 L221.63,583.32 L221.90,583.76 L222.18,584.42 L222.45,585.30 L222.72,586.38 L223.00,587.65 L223.27,589.09 L223.54,590.69 L223.82,592.42 L224.09,594.26 L224.37,596.19 L224.64,598.20 L224.91,600.25 L225.19,602.32 L225.46,604.41 L225.73,606.48 L226.01,608.52 L226.28,610.51 L226.56,612.44 L226.83,614.30 L227.10,616.08 L227.38,614.42 L227.65,612.87 L227.92,611.51 L228.20,610.39 L228.47,609.55 L228.75,609.05 L229.02,608.90 L229.29,609.15 L229.57,609.83 L229.84,610.90 L230.11,612.30 L230.39,613.95 L230.66,615.78 L230.94,617.69 L231.21,619.61 L231.48,621.46 L231.76,623.20 L232.03,624.77 L232.30,626.16 L232.58,627.35 L232.85,628.34 L233.13,629.16 L233.40,629.80 L233.40,630.00 L211.50,630.00 Z" fill="#c4c4c4"/>
<path d="M211.50,630.00 L211.77,630.00 L212.05,629.90 L212.32,629.29 L212.59,628.60 L212.87,627.83 L213.14,626.97 L213.42,626.01 L213.69,624.96 L213.96,623.80 L214.24,622.54 L214.51,621.18 L214.78,619.72 L215.06,618.15 L215.33,616.48 L215.61,614.72 L215.88,612.88 L216.15,610.97 L216.43,608.98 L216.70,606.95 L216.97,604.89 L217.25,602.81 L217.52,600.73 L217.80,598.67 L218.07,596.65 L218.34,594.70 L218.62,592.84 L218.89,591.08 L219.16,589.45 L219.44,587.97 L219.71,586.66 L219.99,585.53 L220.26,584.61 L220.53,583.89 L220.81,583.40 L221.08,583.14 L221.35,583.12 L221.63,583.32 L221.90,583.76 L222.18,584.42 L222.45,585.30 L222.72,586.38 L223.00,587.65 L223.27,589.09 L223.54,590.69 L223.82,592.42 L224.09,594.26 L224.37,596.19 L224.64,598.20 L224.91,600.25 L225.19,602.32 L225.46,604.41 L225.73,606.48 L226.01,608.52 L226.28,610.51 L226.56,612.44 L226.83,614.30 L227.10,616.08 L227.38,614.42 L227.65,612.87 L227.92,611.51 L228.20,610.39 L228.47,609.55 L228.75,609.05 L229.02,608.90 L229.29,609.15 L229.57,609.83 L229.84,610.90 L230.11,612.30 L230.39,613.95 L230.66,615.78 L230.94,617.69 L231.21,619.61 L231.48,621.46 L231.76,623.20 L232.03,624.77 L232.30,626.16 L232.58,627.35 L232.85,628.34 L233.13,629.16 L233.40,629.80" fill="none" stroke="#333" stroke-width="0.9" stroke-dasharray="1.3 1.2"/>
<path d="M182.50,630.00 L182.71,630.00 L182.91,630.00 L183.12,629.72 L183.32,629.19 L183.53,628.60 L183.74,627.95 L183.94,627.24 L184.15,626.47 L184.36,625.62 L184.56,624.71 L184.77,623.72 L184.97,622.66 L185.18,621.52 L185.39,620.31 L185.59,619.02 L185.80,617.67 L186.01,616.24 L186.21,614.75 L186.42,613.20 L186.62,611.60 L186.83,609.95 L187.04,608.25 L187.24,606.53 L187.45,604.78 L187.66,603.02 L187.86,601.26 L188.07,599.52 L188.28,597.79 L188.48,596.11 L188.69,594.47 L188.89,592.90 L189.10,591.40 L189.31,589.99 L189.51,588.69 L189.72,587.50 L189.93,586.43 L190.13,585.50 L190.34,584.71 L190.54,584.07 L190.75,583.59 L190.96,583.27 L191.16,583.12 L191.37,583.14 L191.57,583.37 L191.78,583.81 L191.99,584.46 L192.19,585.31 L192.40,586.35 L192.61,587.56 L192.81,588.94 L193.02,590.45 L193.22,592.10 L193.43,593.85 L193.64,595.69 L193.84,597.60 L194.05,599.56 L194.26,601.55 L194.46,603.55 L194.67,605.55 L194.88,607.52 L195.08,609.46 L195.29,611.36 L195.49,613.19 L195.70,614.95 L195.91,616.63 L196.11,618.22 L196.32,619.73 L196.53,621.14 L196.73,622.45 L196.94,623.67 L197.14,624.79 L197.35,625.82 L197.56,626.76 L197.76,627.61 L197.97,628.38 L198.18,629.06 L198.38,629.68 L198.59,630.00 L198.79,630.00 L199.00,630.00" fill="none" stroke="#2a2a2a" stroke-width="1.05" stroke-dasharray="1.3 1.3"/>
<rect x="176.50" y="579.50" width="1.10" height="51.30" fill="#787878" />
<rect x="233.20" y="579.50" width="1.10" height="51.30" fill="#787878" />
<text x="175.40" y="582.40" font-size="3.2" font-weight="700" text-anchor="end" fill="#666">100</text>
<text x="175.40" y="592.30" font-size="3.2" font-weight="700" text-anchor="end" fill="#666">80</text>
<text x="175.40" y="602.20" font-size="3.2" font-weight="700" text-anchor="end" fill="#666">60</text>
<text x="175.40" y="612.10" font-size="3.2" font-weight="700" text-anchor="end" fill="#666">40</text>
<text x="175.40" y="622.00" font-size="3.2" font-weight="700" text-anchor="end" fill="#666">20</text>
<text x="177.00" y="635.50" font-size="3.4" font-weight="700" text-anchor="middle" fill="#555">10</text>
<text x="191.18" y="635.50" font-size="3.4" font-weight="700" text-anchor="middle" fill="#555">10</text>
<text x="205.35" y="635.50" font-size="3.4" font-weight="700" text-anchor="middle" fill="#555">10</text>
<text x="219.52" y="635.50" font-size="3.4" font-weight="700" text-anchor="middle" fill="#555">10</text>
<text x="233.70" y="635.50" font-size="3.4" font-weight="700" text-anchor="middle" fill="#555">10</text>
<line x1="247.3" y1="630.3" x2="303.8" y2="630.3" stroke="#9a9a9a" stroke-width="0.8" stroke-dasharray="1 1.4"/>
<path d="M262.00,630.00 L262.16,630.00 L262.31,630.00 L262.47,630.00 L262.62,629.60 L262.78,629.06 L262.94,628.46 L263.09,627.80 L263.25,627.07 L263.41,626.28 L263.56,625.42 L263.72,624.49 L263.88,623.49 L264.03,622.41 L264.19,621.25 L264.34,620.03 L264.50,618.73 L264.66,617.35 L264.81,615.91 L264.97,614.41 L265.12,612.85 L265.28,611.23 L265.44,609.57 L265.59,607.87 L265.75,606.14 L265.91,604.39 L266.06,602.63 L266.22,600.87 L266.38,599.13 L266.53,597.41 L266.69,595.73 L266.84,594.11 L267.00,592.55 L267.16,591.08 L267.31,589.69 L267.47,588.41 L267.62,587.25 L267.78,586.21 L267.94,585.31 L268.09,584.55 L268.25,583.95 L268.41,583.50 L268.56,583.22 L268.72,583.10 L268.88,583.18 L269.03,583.48 L269.19,584.02 L269.34,584.78 L269.50,585.75 L269.66,586.93 L269.81,588.28 L269.97,589.81 L270.12,591.48 L270.28,593.27 L270.44,595.17 L270.59,597.15 L270.75,599.19 L270.91,601.27 L271.06,603.37 L271.22,605.46 L271.38,607.52 L271.53,609.55 L271.69,611.53 L271.84,613.44 L272.00,615.26 L272.16,617.00 L272.31,618.65 L272.47,620.19 L272.62,621.63 L272.78,622.97 L272.94,624.20 L273.09,625.33 L273.25,626.35 L273.41,627.28 L273.56,628.12 L273.72,628.86 L273.88,629.52 L274.03,630.00 L274.19,630.00 L274.34,630.00 L274.50,630.00 L274.50,630.00 L262.00,630.00 Z" fill="#e4e4e4"/>
<path d="M262.00,630.00 L262.16,630.00 L262.31,630.00 L262.47,630.00 L262.62,629.60 L262.78,629.06 L262.94,628.46 L263.09,627.80 L263.25,627.07 L263.41,626.28 L263.56,625.42 L263.72,624.49 L263.88,623.49 L264.03,622.41 L264.19,621.25 L264.34,620.03 L264.50,618.73 L264.66,617.35 L264.81,615.91 L264.97,614.41 L265.12,612.85 L265.28,611.23 L265.44,609.57 L265.59,607.87 L265.75,606.14 L265.91,604.39 L266.06,602.63 L266.22,600.87 L266.38,599.13 L266.53,597.41 L266.69,595.73 L266.84,594.11 L267.00,592.55 L267.16,591.08 L267.31,589.69 L267.47,588.41 L267.62,587.25 L267.78,586.21 L267.94,585.31 L268.09,584.55 L268.25,583.95 L268.41,583.50 L268.56,583.22 L268.72,583.10 L268.88,583.18 L269.03,583.48 L269.19,584.02 L269.34,584.78 L269.50,585.75 L269.66,586.93 L269.81,588.28 L269.97,589.81 L270.12,591.48 L270.28,593.27 L270.44,595.17 L270.59,597.15 L270.75,599.19 L270.91,601.27 L271.06,603.37 L271.22,605.46 L271.38,607.52 L271.53,609.55 L271.69,611.53 L271.84,613.44 L272.00,615.26 L272.16,617.00 L272.31,618.65 L272.47,620.19 L272.62,621.63 L272.78,622.97 L272.94,624.20 L273.09,625.33 L273.25,626.35 L273.41,627.28 L273.56,628.12 L273.72,628.86 L273.88,629.52 L274.03,630.00 L274.19,630.00 L274.34,630.00 L274.50,630.00" fill="none" stroke="#b0b0b0" stroke-width="0.8" stroke-dasharray="1.2 1.2"/>
<path d="M267.20,630.00 L267.48,630.00 L267.76,629.90 L268.04,629.44 L268.32,628.93 L268.61,628.37 L268.89,627.76 L269.17,627.09 L269.45,626.37 L269.73,625.60 L270.01,624.76 L270.29,623.86 L270.57,622.90 L270.86,621.88 L271.14,620.80 L271.42,619.65 L271.70,618.45 L271.98,617.18 L272.26,615.86 L272.54,614.48 L272.82,613.06 L273.11,611.59 L273.39,610.08 L273.67,608.53 L273.95,606.96 L274.23,605.37 L274.51,603.76 L274.79,602.15 L275.07,600.55 L275.36,598.96 L275.64,597.39 L275.92,595.85 L276.20,594.36 L276.48,592.93 L276.76,591.55 L277.04,590.25 L277.32,589.04 L277.61,587.91 L277.89,586.89 L278.17,585.97 L278.45,585.18 L278.73,584.50 L279.01,583.95 L279.29,583.54 L279.57,583.26 L279.86,583.12 L280.14,583.13 L280.42,583.38 L280.70,583.87 L280.98,584.60 L281.26,585.55 L281.54,586.72 L281.82,588.09 L282.11,589.64 L282.39,591.34 L282.67,593.17 L282.95,595.12 L283.23,597.15 L283.51,599.25 L283.79,601.39 L284.07,603.54 L284.36,605.68 L284.64,607.80 L284.92,609.88 L285.20,611.90 L285.48,613.84 L285.76,615.70 L286.04,617.46 L286.32,619.12 L286.61,620.68 L286.89,622.12 L287.17,623.45 L287.45,624.67 L287.73,625.79 L288.01,626.79 L288.29,627.70 L288.57,628.51 L288.86,629.23 L289.14,629.87 L289.42,630.00 L289.70,630.00 L289.70,630.00 L267.20,630.00 Z" fill="#c4c4c4"/>
<path d="M267.20,630.00 L267.48,630.00 L267.76,629.90 L268.04,629.44 L268.32,628.93 L268.61,628.37 L268.89,627.76 L269.17,627.09 L269.45,626.37 L269.73,625.60 L270.01,624.76 L270.29,623.86 L270.57,622.90 L270.86,621.88 L271.14,620.80 L271.42,619.65 L271.70,618.45 L271.98,617.18 L272.26,615.86 L272.54,614.48 L272.82,613.06 L273.11,611.59 L273.39,610.08 L273.67,608.53 L273.95,606.96 L274.23,605.37 L274.51,603.76 L274.79,602.15 L275.07,600.55 L275.36,598.96 L275.64,597.39 L275.92,595.85 L276.20,594.36 L276.48,592.93 L276.76,591.55 L277.04,590.25 L277.32,589.04 L277.61,587.91 L277.89,586.89 L278.17,585.97 L278.45,585.18 L278.73,584.50 L279.01,583.95 L279.29,583.54 L279.57,583.26 L279.86,583.12 L280.14,583.13 L280.42,583.38 L280.70,583.87 L280.98,584.60 L281.26,585.55 L281.54,586.72 L281.82,588.09 L282.11,589.64 L282.39,591.34 L282.67,593.17 L282.95,595.12 L283.23,597.15 L283.51,599.25 L283.79,601.39 L284.07,603.54 L284.36,605.68 L284.64,607.80 L284.92,609.88 L285.20,611.90 L285.48,613.84 L285.76,615.70 L286.04,617.46 L286.32,619.12 L286.61,620.68 L286.89,622.12 L287.17,623.45 L287.45,624.67 L287.73,625.79 L288.01,626.79 L288.29,627.70 L288.57,628.51 L288.86,629.23 L289.14,629.87 L289.42,630.00 L289.70,630.00" fill="none" stroke="#333" stroke-width="0.9" stroke-dasharray="1.3 1.2"/>
<path d="M252.50,630.00 L252.70,630.00 L252.90,630.00 L253.10,629.78 L253.30,629.31 L253.50,628.80 L253.70,628.24 L253.90,627.63 L254.10,626.96 L254.30,626.25 L254.50,625.47 L254.70,624.64 L254.90,623.75 L255.10,622.81 L255.30,621.80 L255.50,620.73 L255.70,619.60 L255.90,618.41 L256.10,617.17 L256.30,615.87 L256.50,614.52 L256.70,613.12 L256.90,611.68 L257.10,610.19 L257.30,608.68 L257.50,607.14 L257.70,605.57 L257.90,604.00 L258.10,602.41 L258.30,600.83 L258.50,599.27 L258.70,597.72 L258.90,596.20 L259.10,594.73 L259.30,593.30 L259.50,591.93 L259.70,590.63 L259.90,589.41 L260.10,588.28 L260.30,587.24 L260.50,586.30 L260.70,585.47 L260.90,584.76 L261.10,584.17 L261.30,583.70 L261.50,583.37 L261.70,583.17 L261.90,583.10 L262.10,583.24 L262.30,583.67 L262.50,584.38 L262.70,585.35 L262.90,586.56 L263.10,588.01 L263.30,589.67 L263.50,591.50 L263.70,593.49 L263.90,595.59 L264.10,597.80 L264.30,600.06 L264.50,602.36 L264.70,604.67 L264.90,606.96 L265.10,609.20 L265.30,611.39 L265.50,613.49 L265.70,615.50 L265.90,617.40 L266.10,619.18 L266.30,620.84 L266.50,622.37 L266.70,623.77 L266.90,625.05 L267.10,626.20 L267.30,627.23 L267.50,628.15 L267.70,628.96 L267.90,629.68 L268.10,630.00 L268.30,630.00 L268.50,630.00" fill="none" stroke="#2a2a2a" stroke-width="1.05" stroke-dasharray="1.3 1.3"/>
<text x="245.70" y="582.40" font-size="3.2" font-weight="700" text-anchor="end" fill="#666">100</text>
<text x="245.70" y="592.30" font-size="3.2" font-weight="700" text-anchor="end" fill="#666">80</text>
<text x="245.70" y="602.20" font-size="3.2" font-weight="700" text-anchor="end" fill="#666">60</text>
<text x="245.70" y="612.10" font-size="3.2" font-weight="700" text-anchor="end" fill="#666">40</text>
<text x="245.70" y="622.00" font-size="3.2" font-weight="700" text-anchor="end" fill="#666">20</text>
<text x="247.30" y="635.50" font-size="3.4" font-weight="700" text-anchor="middle" fill="#555">10</text>
<text x="261.43" y="635.50" font-size="3.4" font-weight="700" text-anchor="middle" fill="#555">10</text>
<text x="275.55" y="635.50" font-size="3.4" font-weight="700" text-anchor="middle" fill="#555">10</text>
<text x="289.68" y="635.50" font-size="3.4" font-weight="700" text-anchor="middle" fill="#555">10</text>
<text x="303.80" y="635.50" font-size="3.4" font-weight="700" text-anchor="middle" fill="#555">10</text>
<line x1="317.8" y1="630.3" x2="374.2" y2="630.3" stroke="#9a9a9a" stroke-width="0.8" stroke-dasharray="1 1.4"/>
<path d="M323.50,630.00 L323.77,630.00 L324.04,629.93 L324.31,629.41 L324.57,628.83 L324.84,628.19 L325.11,627.49 L325.38,626.72 L325.65,625.87 L325.92,624.96 L326.19,623.96 L326.46,622.89 L326.73,621.75 L326.99,620.52 L327.26,619.22 L327.53,617.84 L327.80,616.39 L328.07,614.87 L328.34,613.29 L328.61,611.64 L328.88,609.95 L329.14,608.22 L329.41,606.45 L329.68,604.66 L329.95,602.86 L330.22,601.06 L330.49,599.28 L330.76,597.52 L331.02,595.80 L331.29,594.13 L331.56,592.54 L331.83,591.03 L332.10,589.62 L332.37,588.31 L332.64,587.13 L332.91,586.08 L333.18,585.18 L333.44,584.43 L333.71,583.85 L333.98,583.42 L334.25,583.18 L334.52,583.10 L334.79,583.21 L335.06,583.51 L335.32,584.00 L335.59,584.67 L335.86,585.52 L336.13,586.53 L336.40,587.70 L336.67,589.01 L336.94,590.44 L337.21,591.99 L337.48,593.64 L337.74,595.36 L338.01,597.16 L338.28,599.00 L338.55,600.87 L338.82,602.76 L339.09,604.65 L339.36,606.53 L339.62,608.38 L339.89,610.20 L340.16,611.97 L340.43,613.68 L340.70,615.32 L340.97,616.89 L341.24,618.39 L341.51,619.80 L341.77,621.13 L342.04,622.38 L342.31,623.54 L342.58,624.61 L342.85,625.60 L343.12,626.51 L343.39,627.34 L343.66,628.09 L343.93,628.77 L344.19,629.38 L344.46,629.93 L344.73,630.00 L345.00,630.00 L345.00,630.00 L323.50,630.00 Z" fill="#e4e4e4"/>
<path d="M323.50,630.00 L323.77,630.00 L324.04,629.93 L324.31,629.41 L324.57,628.83 L324.84,628.19 L325.11,627.49 L325.38,626.72 L325.65,625.87 L325.92,624.96 L326.19,623.96 L326.46,622.89 L326.73,621.75 L326.99,620.52 L327.26,619.22 L327.53,617.84 L327.80,616.39 L328.07,614.87 L328.34,613.29 L328.61,611.64 L328.88,609.95 L329.14,608.22 L329.41,606.45 L329.68,604.66 L329.95,602.86 L330.22,601.06 L330.49,599.28 L330.76,597.52 L331.02,595.80 L331.29,594.13 L331.56,592.54 L331.83,591.03 L332.10,589.62 L332.37,588.31 L332.64,587.13 L332.91,586.08 L333.18,585.18 L333.44,584.43 L333.71,583.85 L333.98,583.42 L334.25,583.18 L334.52,583.10 L334.79,583.21 L335.06,583.51 L335.32,584.00 L335.59,584.67 L335.86,585.52 L336.13,586.53 L336.40,587.70 L336.67,589.01 L336.94,590.44 L337.21,591.99 L337.48,593.64 L337.74,595.36 L338.01,597.16 L338.28,599.00 L338.55,600.87 L338.82,602.76 L339.09,604.65 L339.36,606.53 L339.62,608.38 L339.89,610.20 L340.16,611.97 L340.43,613.68 L340.70,615.32 L340.97,616.89 L341.24,618.39 L341.51,619.80 L341.77,621.13 L342.04,622.38 L342.31,623.54 L342.58,624.61 L342.85,625.60 L343.12,626.51 L343.39,627.34 L343.66,628.09 L343.93,628.77 L344.19,629.38 L344.46,629.93 L344.73,630.00 L345.00,630.00" fill="none" stroke="#b0b0b0" stroke-width="0.8" stroke-dasharray="1.2 1.2"/>
<path d="M343.60,630.00 L343.81,630.00 L344.01,630.00 L344.22,629.71 L344.42,629.15 L344.62,628.53 L344.83,627.84 L345.04,627.08 L345.24,626.24 L345.44,625.33 L345.65,624.35 L345.86,623.28 L346.06,622.12 L346.27,620.89 L346.47,619.57 L346.68,618.18 L346.88,616.71 L347.09,615.16 L347.29,613.54 L347.50,611.87 L347.70,610.14 L347.91,608.36 L348.11,606.55 L348.31,604.71 L348.52,602.86 L348.73,601.01 L348.93,599.18 L349.13,597.38 L349.34,595.62 L349.55,593.92 L349.75,592.29 L349.96,590.76 L350.16,589.33 L350.37,588.02 L350.57,586.84 L350.78,585.80 L350.98,584.92 L351.19,584.21 L351.39,583.67 L351.60,583.30 L351.80,583.12 L352.00,583.13 L352.21,583.32 L352.42,583.71 L352.62,584.28 L352.82,585.04 L353.03,585.97 L353.24,587.06 L353.44,588.30 L353.64,589.67 L353.85,591.17 L354.06,592.77 L354.26,594.47 L354.47,596.23 L354.67,598.06 L354.88,599.92 L355.08,601.81 L355.29,603.71 L355.49,605.60 L355.69,607.48 L355.90,609.32 L356.11,611.12 L356.31,612.86 L356.51,614.55 L356.72,616.16 L356.93,617.70 L357.13,619.16 L357.33,620.53 L357.54,621.82 L357.75,623.02 L357.95,624.14 L358.15,625.17 L358.36,626.12 L358.56,626.98 L358.77,627.77 L358.98,628.48 L359.18,629.13 L359.38,629.70 L359.59,630.00 L359.80,630.00 L360.00,630.00 L360.00,630.00 L343.60,630.00 Z" fill="#c4c4c4"/>
<path d="M343.60,630.00 L343.81,630.00 L344.01,630.00 L344.22,629.71 L344.42,629.15 L344.62,628.53 L344.83,627.84 L345.04,627.08 L345.24,626.24 L345.44,625.33 L345.65,624.35 L345.86,623.28 L346.06,622.12 L346.27,620.89 L346.47,619.57 L346.68,618.18 L346.88,616.71 L347.09,615.16 L347.29,613.54 L347.50,611.87 L347.70,610.14 L347.91,608.36 L348.11,606.55 L348.31,604.71 L348.52,602.86 L348.73,601.01 L348.93,599.18 L349.13,597.38 L349.34,595.62 L349.55,593.92 L349.75,592.29 L349.96,590.76 L350.16,589.33 L350.37,588.02 L350.57,586.84 L350.78,585.80 L350.98,584.92 L351.19,584.21 L351.39,583.67 L351.60,583.30 L351.80,583.12 L352.00,583.13 L352.21,583.32 L352.42,583.71 L352.62,584.28 L352.82,585.04 L353.03,585.97 L353.24,587.06 L353.44,588.30 L353.64,589.67 L353.85,591.17 L354.06,592.77 L354.26,594.47 L354.47,596.23 L354.67,598.06 L354.88,599.92 L355.08,601.81 L355.29,603.71 L355.49,605.60 L355.69,607.48 L355.90,609.32 L356.11,611.12 L356.31,612.86 L356.51,614.55 L356.72,616.16 L356.93,617.70 L357.13,619.16 L357.33,620.53 L357.54,621.82 L357.75,623.02 L357.95,624.14 L358.15,625.17 L358.36,626.12 L358.56,626.98 L358.77,627.77 L358.98,628.48 L359.18,629.13 L359.38,629.70 L359.59,630.00 L359.80,630.00 L360.00,630.00" fill="none" stroke="#333" stroke-width="0.9" stroke-dasharray="1.3 1.2"/>
<path d="M322.80,630.00 L323.02,630.00 L323.25,630.00 L323.47,629.64 L323.69,629.12 L323.91,628.55 L324.13,627.92 L324.36,627.23 L324.58,626.47 L324.80,625.66 L325.03,624.78 L325.25,623.83 L325.47,622.81 L325.69,621.72 L325.92,620.56 L326.14,619.34 L326.36,618.04 L326.58,616.68 L326.81,615.26 L327.03,613.78 L327.25,612.25 L327.47,610.67 L327.69,609.05 L327.92,607.39 L328.14,605.71 L328.36,604.02 L328.59,602.31 L328.81,600.61 L329.03,598.93 L329.25,597.27 L329.48,595.66 L329.70,594.09 L329.92,592.58 L330.14,591.15 L330.37,589.80 L330.59,588.55 L330.81,587.41 L331.03,586.39 L331.25,585.49 L331.48,584.72 L331.70,584.10 L331.92,583.62 L332.15,583.30 L332.37,583.13 L332.59,583.12 L332.81,583.33 L333.04,583.76 L333.26,584.41 L333.48,585.27 L333.70,586.33 L333.93,587.58 L334.15,589.00 L334.37,590.57 L334.59,592.27 L334.81,594.09 L335.04,595.99 L335.26,597.97 L335.48,599.99 L335.71,602.04 L335.93,604.10 L336.15,606.16 L336.37,608.18 L336.60,610.16 L336.82,612.08 L337.04,613.94 L337.26,615.72 L337.49,617.41 L337.71,619.00 L337.93,620.50 L338.15,621.90 L338.38,623.19 L338.60,624.39 L338.82,625.48 L339.04,626.47 L339.27,627.38 L339.49,628.19 L339.71,628.91 L339.93,629.56 L340.16,630.00 L340.38,630.00 L340.60,630.00" fill="none" stroke="#2a2a2a" stroke-width="1.05" stroke-dasharray="1.3 1.3"/>
<rect x="373.70" y="579.50" width="1.10" height="51.30" fill="#787878" />
<text x="316.20" y="582.40" font-size="3.2" font-weight="700" text-anchor="end" fill="#666">100</text>
<text x="316.20" y="592.30" font-size="3.2" font-weight="700" text-anchor="end" fill="#666">80</text>
<text x="316.20" y="602.20" font-size="3.2" font-weight="700" text-anchor="end" fill="#666">60</text>
<text x="316.20" y="612.10" font-size="3.2" font-weight="700" text-anchor="end" fill="#666">40</text>
<text x="316.20" y="622.00" font-size="3.2" font-weight="700" text-anchor="end" fill="#666">20</text>
<text x="317.80" y="635.50" font-size="3.4" font-weight="700" text-anchor="middle" fill="#555">10</text>
<text x="331.90" y="635.50" font-size="3.4" font-weight="700" text-anchor="middle" fill="#555">10</text>
<text x="346.00" y="635.50" font-size="3.4" font-weight="700" text-anchor="middle" fill="#555">10</text>
<text x="360.10" y="635.50" font-size="3.4" font-weight="700" text-anchor="middle" fill="#555">10</text>
<text x="374.20" y="635.50" font-size="3.4" font-weight="700" text-anchor="middle" fill="#555">10</text>
<line x1="388.0" y1="630.3" x2="444.6" y2="630.3" stroke="#9a9a9a" stroke-width="0.8" stroke-dasharray="1 1.4"/>
<path d="M392.50,630.00 L392.73,630.00 L392.95,630.00 L393.18,629.67 L393.40,629.22 L393.62,628.72 L393.85,628.18 L394.07,627.59 L394.30,626.96 L394.52,626.28 L394.75,625.54 L394.98,624.76 L395.20,623.92 L395.43,623.02 L395.65,622.07 L395.88,621.07 L396.10,620.01 L396.32,618.90 L396.55,617.74 L396.77,616.53 L397.00,615.26 L397.23,613.96 L397.45,612.61 L397.68,611.22 L397.90,609.79 L398.12,608.34 L398.35,606.87 L398.57,605.37 L398.80,603.87 L399.02,602.36 L399.25,600.85 L399.48,599.36 L399.70,597.88 L399.93,596.43 L400.15,595.02 L400.38,593.64 L400.60,592.32 L400.82,591.06 L401.05,589.87 L401.27,588.75 L401.50,587.72 L401.73,586.78 L401.95,585.93 L402.18,585.18 L402.40,584.54 L402.62,584.02 L402.85,583.61 L403.07,583.32 L403.30,583.15 L403.52,583.10 L403.75,583.30 L403.98,583.81 L404.20,584.63 L404.43,585.73 L404.65,587.11 L404.88,588.74 L405.10,590.58 L405.32,592.60 L405.55,594.78 L405.77,597.07 L406.00,599.45 L406.23,601.87 L406.45,604.31 L406.68,606.73 L406.90,609.10 L407.12,611.41 L407.35,613.62 L407.57,615.73 L407.80,617.72 L408.02,619.57 L408.25,621.29 L408.48,622.86 L408.70,624.30 L408.93,625.59 L409.15,626.74 L409.38,627.77 L409.60,628.67 L409.82,629.46 L410.05,630.00 L410.27,630.00 L410.50,630.00 L410.50,630.00 L392.50,630.00 Z" fill="#e4e4e4"/>
<path d="M392.50,630.00 L392.73,630.00 L392.95,630.00 L393.18,629.67 L393.40,629.22 L393.62,628.72 L393.85,628.18 L394.07,627.59 L394.30,626.96 L394.52,626.28 L394.75,625.54 L394.98,624.76 L395.20,623.92 L395.43,623.02 L395.65,622.07 L395.88,621.07 L396.10,620.01 L396.32,618.90 L396.55,617.74 L396.77,616.53 L397.00,615.26 L397.23,613.96 L397.45,612.61 L397.68,611.22 L397.90,609.79 L398.12,608.34 L398.35,606.87 L398.57,605.37 L398.80,603.87 L399.02,602.36 L399.25,600.85 L399.48,599.36 L399.70,597.88 L399.93,596.43 L400.15,595.02 L400.38,593.64 L400.60,592.32 L400.82,591.06 L401.05,589.87 L401.27,588.75 L401.50,587.72 L401.73,586.78 L401.95,585.93 L402.18,585.18 L402.40,584.54 L402.62,584.02 L402.85,583.61 L403.07,583.32 L403.30,583.15 L403.52,583.10 L403.75,583.30 L403.98,583.81 L404.20,584.63 L404.43,585.73 L404.65,587.11 L404.88,588.74 L405.10,590.58 L405.32,592.60 L405.55,594.78 L405.77,597.07 L406.00,599.45 L406.23,601.87 L406.45,604.31 L406.68,606.73 L406.90,609.10 L407.12,611.41 L407.35,613.62 L407.57,615.73 L407.80,617.72 L408.02,619.57 L408.25,621.29 L408.48,622.86 L408.70,624.30 L408.93,625.59 L409.15,626.74 L409.38,627.77 L409.60,628.67 L409.82,629.46 L410.05,630.00 L410.27,630.00 L410.50,630.00" fill="none" stroke="#b0b0b0" stroke-width="0.8" stroke-dasharray="1.2 1.2"/>
<path d="M396.00,630.00 L396.43,629.69 L396.86,629.33 L397.29,628.92 L397.73,628.44 L398.16,627.89 L398.59,627.28 L399.02,626.60 L399.45,625.84 L399.88,625.03 L400.31,624.14 L400.74,623.21 L401.18,622.22 L401.61,621.21 L402.04,620.16 L402.47,619.12 L402.90,618.08 L403.33,617.07 L403.76,616.11 L404.19,615.21 L404.62,614.40 L405.06,613.70 L405.49,613.11 L405.92,612.66 L406.35,612.35 L406.78,612.20 L407.21,612.32 L407.64,613.45 L408.07,612.44 L408.51,610.47 L408.94,608.43 L409.37,606.34 L409.80,604.22 L410.23,602.09 L410.66,599.97 L411.09,597.88 L411.52,595.84 L411.96,593.88 L412.39,592.02 L412.82,590.28 L413.25,588.68 L413.68,587.26 L414.11,586.02 L414.54,584.98 L414.98,584.16 L415.41,583.57 L415.84,583.21 L416.27,583.10 L416.70,583.24 L417.13,583.65 L417.56,584.30 L417.99,585.20 L418.43,586.33 L418.86,587.68 L419.29,589.21 L419.72,590.92 L420.15,592.78 L420.58,594.75 L421.01,596.83 L421.44,598.97 L421.88,601.16 L422.31,603.36 L422.74,605.57 L423.17,607.74 L423.60,609.87 L424.03,611.94 L424.46,613.93 L424.89,615.83 L425.32,617.63 L425.76,619.33 L426.19,620.90 L426.62,622.37 L427.05,623.71 L427.48,624.94 L427.91,626.06 L428.34,627.06 L428.77,627.96 L429.21,628.76 L429.64,629.47 L430.07,630.00 L430.50,630.00 L430.50,630.00 L396.00,630.00 Z" fill="#c4c4c4"/>
<path d="M396.00,630.00 L396.43,629.69 L396.86,629.33 L397.29,628.92 L397.73,628.44 L398.16,627.89 L398.59,627.28 L399.02,626.60 L399.45,625.84 L399.88,625.03 L400.31,624.14 L400.74,623.21 L401.18,622.22 L401.61,621.21 L402.04,620.16 L402.47,619.12 L402.90,618.08 L403.33,617.07 L403.76,616.11 L404.19,615.21 L404.62,614.40 L405.06,613.70 L405.49,613.11 L405.92,612.66 L406.35,612.35 L406.78,612.20 L407.21,612.32 L407.64,613.45 L408.07,612.44 L408.51,610.47 L408.94,608.43 L409.37,606.34 L409.80,604.22 L410.23,602.09 L410.66,599.97 L411.09,597.88 L411.52,595.84 L411.96,593.88 L412.39,592.02 L412.82,590.28 L413.25,588.68 L413.68,587.26 L414.11,586.02 L414.54,584.98 L414.98,584.16 L415.41,583.57 L415.84,583.21 L416.27,583.10 L416.70,583.24 L417.13,583.65 L417.56,584.30 L417.99,585.20 L418.43,586.33 L418.86,587.68 L419.29,589.21 L419.72,590.92 L420.15,592.78 L420.58,594.75 L421.01,596.83 L421.44,598.97 L421.88,601.16 L422.31,603.36 L422.74,605.57 L423.17,607.74 L423.60,609.87 L424.03,611.94 L424.46,613.93 L424.89,615.83 L425.32,617.63 L425.76,619.33 L426.19,620.90 L426.62,622.37 L427.05,623.71 L427.48,624.94 L427.91,626.06 L428.34,627.06 L428.77,627.96 L429.21,628.76 L429.64,629.47 L430.07,630.00 L430.50,630.00" fill="none" stroke="#333" stroke-width="0.9" stroke-dasharray="1.3 1.2"/>
<path d="M393.50,630.00 L393.71,630.00 L393.91,630.00 L394.12,629.75 L394.32,629.27 L394.53,628.75 L394.74,628.18 L394.94,627.55 L395.15,626.88 L395.36,626.15 L395.56,625.36 L395.77,624.51 L395.98,623.61 L396.18,622.64 L396.39,621.61 L396.59,620.52 L396.80,619.37 L397.01,618.17 L397.21,616.90 L397.42,615.58 L397.62,614.20 L397.83,612.78 L398.04,611.32 L398.24,609.82 L398.45,608.28 L398.66,606.72 L398.86,605.14 L399.07,603.54 L399.27,601.95 L399.48,600.36 L399.69,598.78 L399.89,597.23 L400.10,595.71 L400.31,594.24 L400.51,592.82 L400.72,591.46 L400.93,590.18 L401.13,588.98 L401.34,587.87 L401.54,586.86 L401.75,585.95 L401.96,585.17 L402.16,584.50 L402.37,583.95 L402.57,583.54 L402.78,583.26 L402.99,583.12 L403.19,583.13 L403.40,583.39 L403.61,583.93 L403.81,584.73 L404.02,585.78 L404.23,587.06 L404.43,588.56 L404.64,590.25 L404.84,592.10 L405.05,594.09 L405.26,596.19 L405.46,598.38 L405.67,600.62 L405.88,602.88 L406.08,605.15 L406.29,607.39 L406.49,609.59 L406.70,611.72 L406.91,613.78 L407.11,615.73 L407.32,617.59 L407.52,619.33 L407.73,620.95 L407.94,622.44 L408.14,623.82 L408.35,625.07 L408.56,626.20 L408.76,627.22 L408.97,628.12 L409.18,628.93 L409.38,629.63 L409.59,630.00 L409.79,630.00 L410.00,630.00" fill="none" stroke="#2a2a2a" stroke-width="1.05" stroke-dasharray="1.3 1.3"/>
<path d="M406.10,590.58 L406.30,592.37 L406.50,594.28 L406.70,596.30 L406.90,598.38 L407.10,600.52 L407.30,602.68 L407.50,604.85 L407.70,606.99 L407.90,609.10 L408.10,611.16 L408.30,613.14 L408.50,615.04 L408.70,616.85 L408.90,618.56 L409.10,620.16 L409.30,621.65 L409.50,623.03 L409.70,624.30 L409.90,625.45 L410.10,626.50 L410.30,627.44 L410.50,628.28 L410.70,629.03 L410.90,629.70 L411.10,630.00 L411.30,630.00 L411.50,630.00" fill="none" stroke="#222" stroke-width="0.8"/>
<rect x="387.50" y="579.50" width="1.10" height="51.30" fill="#787878" />
<rect x="444.10" y="579.50" width="1.10" height="51.30" fill="#787878" />
<text x="386.40" y="582.40" font-size="3.2" font-weight="700" text-anchor="end" fill="#666">100</text>
<text x="386.40" y="592.30" font-size="3.2" font-weight="700" text-anchor="end" fill="#666">80</text>
<text x="386.40" y="602.20" font-size="3.2" font-weight="700" text-anchor="end" fill="#666">60</text>
<text x="386.40" y="612.10" font-size="3.2" font-weight="700" text-anchor="end" fill="#666">40</text>
<text x="386.40" y="622.00" font-size="3.2" font-weight="700" text-anchor="end" fill="#666">20</text>
<text x="388.00" y="635.50" font-size="3.4" font-weight="700" text-anchor="middle" fill="#555">10</text>
<text x="402.15" y="635.50" font-size="3.4" font-weight="700" text-anchor="middle" fill="#555">10</text>
<text x="416.30" y="635.50" font-size="3.4" font-weight="700" text-anchor="middle" fill="#555">10</text>
<text x="430.45" y="635.50" font-size="3.4" font-weight="700" text-anchor="middle" fill="#555">10</text>
<text x="444.60" y="635.50" font-size="3.4" font-weight="700" text-anchor="middle" fill="#555">10</text>
<rect x="204.00" y="629.40" width="29.70" height="1.20" fill="#222" />
<rect x="281.00" y="629.40" width="22.50" height="1.20" fill="#222" />
<rect x="351.00" y="629.40" width="23.20" height="1.20" fill="#222" />
<rect x="421.50" y="629.40" width="23.10" height="1.20" fill="#222" />
<rect x="232.30" y="646.70" width="2.20" height="9.20" fill="#000" />
<rect x="232.30" y="646.70" width="5.00" height="2.00" fill="#000" />
<rect x="232.30" y="653.90" width="5.00" height="2.00" fill="#000" />
<rect x="248.20" y="646.70" width="2.20" height="9.20" fill="#000" />
<rect x="245.40" y="646.70" width="5.00" height="2.00" fill="#000" />
<rect x="245.40" y="653.90" width="5.00" height="2.00" fill="#000" />
<rect x="232.30" y="661.20" width="18.10" height="9.20" fill="#000" />
<rect x="234.30" y="663.20" width="14.10" height="5.20" fill="#fff" />
<rect x="232.30" y="675.60" width="18.10" height="9.20" fill="#000" />
<rect x="234.30" y="677.60" width="14.10" height="5.20" fill="#e2e2e2" />
<rect x="232.30" y="690.10" width="18.10" height="9.20" fill="#000" />
<rect x="234.30" y="692.10" width="14.10" height="5.20" fill="#b8b8b8" />
<text x="255.42" y="654.50" font-size="10.24" font-weight="400" fill="#000" textLength="114.83" lengthAdjust="spacingAndGlyphs" >Isotype (freshly isolated)</text>
<text x="255.39" y="669.40" font-size="10.24" font-weight="400" fill="#000" textLength="126.88" lengthAdjust="spacingAndGlyphs" >Isotype (overnight culture)</text>
<text x="255.30" y="683.90" font-size="10.24" font-weight="400" fill="#000" textLength="182.75" lengthAdjust="spacingAndGlyphs" >Costimulatory marker (freshly isolated)</text>
<text x="255.30" y="698.30" font-size="10.24" font-weight="400" fill="#000" textLength="191.86" lengthAdjust="spacingAndGlyphs" >Costimulatory marker (overnight culture)</text>
</svg></body></html>
